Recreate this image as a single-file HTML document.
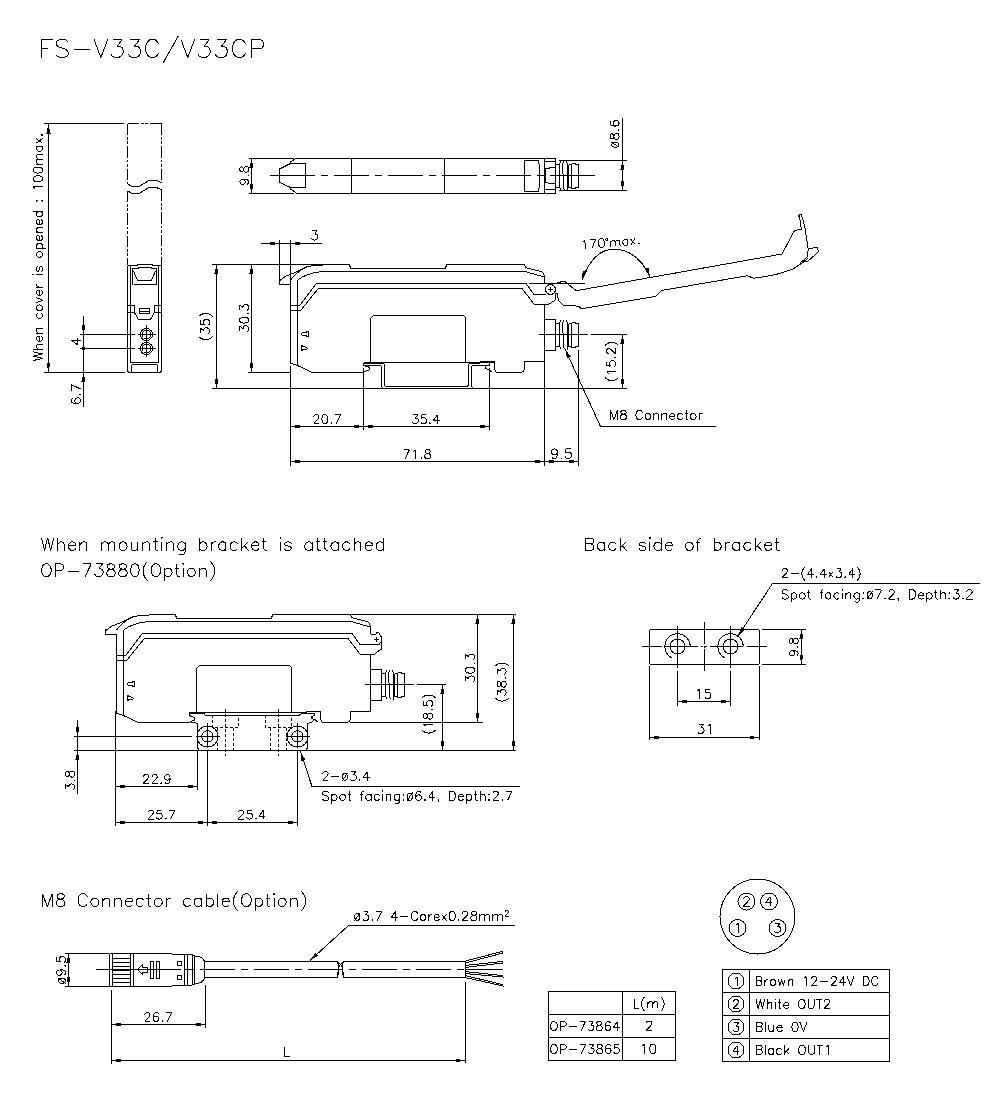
<!DOCTYPE html>
<html><head><meta charset="utf-8"><style>
html,body{margin:0;padding:0;background:#fff;}
svg{display:block;}
svg *{fill:none;stroke:#000;stroke-width:1;shape-rendering:crispEdges;}
svg .t{fill:none;stroke:#000;stroke-linejoin:round;}
svg .f{fill:#000;stroke:none;}
.dd line{stroke-dasharray:11.5 2 2.5 1.5 3 2;}
.cl{stroke-dasharray:35 5.5 7.5 6;}
.cl2{stroke-dasharray:49 3;}
.hid *{stroke-dasharray:3 2;}
</style></head><body>
<svg width="1000" height="1100" viewBox="0 0 1000 1100">
<path class="t" d="M48.38,48.03 L41.50,48.03 M41.50,39.43 L52.69,39.43 M41.50,48.03 L41.50,39.43 M41.50,57.50 L41.50,48.03 M68.17,42.01 L66.45,40.29 L63.87,39.43 L60.43,39.43 L57.85,40.29 L56.13,42.01 L56.13,43.73 L56.99,45.45 L57.85,46.31 L59.57,47.17 L64.73,48.90 L66.45,49.76 L67.31,50.62 L68.17,52.34 L68.17,54.92 L66.45,56.64 L63.87,57.50 L60.43,57.50 L57.85,56.64 L56.13,54.92 M74.20,49.76 L89.69,49.76 M100.87,57.50 L93.99,39.43 M100.87,57.50 L107.76,39.43 M112.92,39.43 L122.38,39.43 M122.38,39.43 L117.22,46.31 M111.20,54.06 L112.06,55.78 L112.92,56.64 L115.50,57.50 L118.08,57.50 L120.66,56.64 L122.38,54.92 L123.24,52.34 L123.24,50.62 L122.38,48.03 L121.52,47.17 L119.80,46.31 L117.22,46.31 M130.13,39.43 L139.59,39.43 M139.59,39.43 L134.43,46.31 M128.41,54.06 L129.27,55.78 L130.13,56.64 L132.71,57.50 L135.29,57.50 L137.87,56.64 L139.59,54.92 L140.45,52.34 L140.45,50.62 L139.59,48.03 L138.73,47.17 L137.01,46.31 L134.43,46.31 M158.52,43.73 L157.66,42.01 L155.94,40.29 L154.22,39.43 L150.78,39.43 L149.06,40.29 L147.34,42.01 L146.48,43.73 L145.62,46.31 L145.62,50.62 L146.48,53.20 L147.34,54.92 L149.06,56.64 L150.78,57.50 L154.22,57.50 L155.94,56.64 L157.66,54.92 L158.52,53.20 M178.31,35.99 L162.83,63.52 M187.78,57.50 L180.90,39.43 M187.78,57.50 L194.66,39.43 M199.83,39.43 L209.29,39.43 M209.29,39.43 L204.13,46.31 M198.10,54.06 L198.97,55.78 L199.83,56.64 L202.41,57.50 L204.99,57.50 L207.57,56.64 L209.29,54.92 L210.15,52.34 L210.15,50.62 L209.29,48.03 L208.43,47.17 L206.71,46.31 L204.13,46.31 M217.03,39.43 L226.50,39.43 M226.50,39.43 L221.34,46.31 M215.31,54.06 L216.17,55.78 L217.03,56.64 L219.62,57.50 L222.20,57.50 L224.78,56.64 L226.50,54.92 L227.36,52.34 L227.36,50.62 L226.50,48.03 L225.64,47.17 L223.92,46.31 L221.34,46.31 M245.43,43.73 L244.57,42.01 L242.85,40.29 L241.13,39.43 L237.69,39.43 L235.97,40.29 L234.24,42.01 L233.38,43.73 L232.52,46.31 L232.52,50.62 L233.38,53.20 L234.24,54.92 L235.97,56.64 L237.69,57.50 L241.13,57.50 L242.85,56.64 L244.57,54.92 L245.43,53.20 M251.45,39.43 L259.20,39.43 L261.78,40.29 L262.64,41.15 L263.50,42.87 L263.50,45.45 L262.64,47.17 L261.78,48.03 L259.20,48.90 L251.45,48.90 M251.45,48.90 L251.45,57.50 M251.45,48.90 L251.45,39.43"/>
<line x1="44" y1="123.5" x2="124" y2="123.5" />
<line x1="44" y1="372.5" x2="125" y2="372.5" />
<line x1="48.5" y1="123.5" x2="48.5" y2="372.5" />
<polygon points="48.5,124 50.6,133.5 46.4,133.5" class="f"/>
<polygon points="48.5,372 46.4,362.5 50.6,362.5" class="f"/>
<path class="t" d="M42.50,358.33 L33.39,360.50 M42.50,358.33 L33.39,356.16 M42.50,353.99 L33.39,356.16 M42.50,353.99 L33.39,351.82 M38.16,349.22 L36.86,347.92 L36.43,347.05 L36.43,345.75 L36.86,344.88 L38.16,344.45 L42.50,344.45 M33.39,349.22 L38.16,349.22 M42.50,349.22 L38.16,349.22 M39.03,341.41 L39.90,341.41 L41.20,340.98 L42.07,340.11 L42.50,339.24 L42.50,337.94 L42.07,337.08 L41.20,336.21 M39.03,336.21 L39.03,341.41 M39.03,336.21 L38.16,336.21 L37.29,336.64 L36.86,337.08 L36.43,337.94 L36.43,339.24 L36.86,340.11 L37.73,340.98 L39.03,341.41 M38.16,333.17 L36.86,331.87 L36.43,331.00 L36.43,329.70 L36.86,328.83 L38.16,328.40 L42.50,328.40 M38.16,333.17 L36.43,333.17 M42.50,333.17 L38.16,333.17 M37.73,313.22 L36.86,314.09 L36.43,314.95 L36.43,316.25 L36.86,317.12 L37.73,317.99 L39.03,318.42 L39.90,318.42 L41.20,317.99 L42.07,317.12 L42.50,316.25 L42.50,314.95 L42.07,314.09 L41.20,313.22 M40.76,310.18 L39.90,310.62 L39.03,310.62 L37.73,310.18 L36.86,309.31 L36.43,308.45 L36.43,307.14 L36.86,306.28 L37.73,305.41 L39.03,304.98 L39.90,304.98 L41.20,305.41 L42.07,306.28 L42.50,307.14 L42.50,308.45 L42.07,309.31 L41.20,310.18 L40.76,310.18 M36.43,302.81 L42.50,300.20 M36.43,297.60 L42.50,300.20 M39.03,295.43 L39.90,295.43 L41.20,295.00 L42.07,294.13 L42.50,293.26 L42.50,291.96 L42.07,291.10 L41.20,290.23 M39.03,290.23 L39.03,295.43 M39.03,290.23 L38.16,290.23 L37.29,290.66 L36.86,291.10 L36.43,291.96 L36.43,293.26 L36.86,294.13 L37.73,295.00 L39.03,295.43 M42.50,287.19 L39.03,287.19 M36.43,283.72 L36.43,285.02 L36.86,285.89 L37.73,286.76 L39.03,287.19 M36.43,287.19 L39.03,287.19 M42.50,274.61 L36.43,274.61 M33.39,275.05 L32.96,274.61 L33.39,274.18 L33.82,274.61 L33.39,275.05 M36.86,271.14 L37.73,271.57 L38.60,271.14 L39.03,270.27 L39.46,268.10 L39.90,267.24 L40.76,266.80 L41.20,266.80 L42.07,267.24 L42.50,268.54 L42.50,269.84 L42.07,271.14 L41.20,271.57 M36.86,267.24 L36.43,268.54 L36.43,269.84 L36.86,271.14 M37.73,266.80 L36.86,267.24 M40.76,256.83 L39.90,257.26 L39.03,257.26 L37.73,256.83 L36.86,255.96 L36.43,255.09 L36.43,253.79 L36.86,252.92 L37.73,252.05 L39.03,251.62 L39.90,251.62 L41.20,252.05 L42.07,252.92 L42.50,253.79 L42.50,255.09 L42.07,255.96 L41.20,256.83 L40.76,256.83 M45.54,248.58 L41.20,248.58 M37.73,248.58 L41.20,248.58 M37.73,248.58 L36.86,247.72 L36.43,246.85 L36.43,245.55 L36.86,244.68 L37.73,243.81 L39.03,243.38 L39.90,243.38 L41.20,243.81 L42.07,244.68 L42.50,245.55 L42.50,246.85 L42.07,247.72 L41.20,248.58 M37.73,248.58 L36.43,248.58 M39.03,240.78 L39.90,240.78 L41.20,240.34 L42.07,239.48 L42.50,238.61 L42.50,237.31 L42.07,236.44 L41.20,235.57 M39.03,235.57 L39.03,240.78 M39.03,235.57 L38.16,235.57 L37.29,236.00 L36.86,236.44 L36.43,237.31 L36.43,238.61 L36.86,239.48 L37.73,240.34 L39.03,240.78 M38.16,232.53 L36.86,231.23 L36.43,230.37 L36.43,229.06 L36.86,228.20 L38.16,227.76 L42.50,227.76 M38.16,232.53 L36.43,232.53 M42.50,232.53 L38.16,232.53 M39.03,224.73 L39.90,224.73 L41.20,224.29 L42.07,223.43 L42.50,222.56 L42.50,221.26 L42.07,220.39 L41.20,219.52 M39.03,219.52 L39.03,224.73 M39.03,219.52 L38.16,219.52 L37.29,219.95 L36.86,220.39 L36.43,221.26 L36.43,222.56 L36.86,223.43 L37.73,224.29 L39.03,224.73 M37.73,211.71 L41.20,211.71 M33.39,211.71 L37.73,211.71 M37.73,211.71 L36.86,212.58 L36.43,213.45 L36.43,214.75 L36.86,215.62 L37.73,216.48 L39.03,216.92 L39.90,216.92 L41.20,216.48 L42.07,215.62 L42.50,214.75 L42.50,213.45 L42.07,212.58 L41.20,211.71 M41.20,211.71 L42.50,211.71 M36.86,201.30 L37.29,200.87 L36.86,200.43 L36.43,200.87 L36.86,201.30 M41.63,200.87 L42.07,201.30 L42.50,200.87 L42.07,200.43 L41.63,200.87 M33.39,186.99 L34.69,188.29 L35.13,189.16 M33.39,186.99 L42.50,186.99 M35.99,181.35 L35.13,181.35 L33.82,180.48 L33.39,179.18 L33.39,178.31 L33.82,177.01 L35.13,176.14 L37.29,175.71 L38.60,175.71 L40.76,176.14 L42.07,177.01 L42.50,178.31 L42.50,179.18 L42.07,180.48 L40.76,181.35 L38.60,181.78 L37.29,181.78 L35.99,181.35 M35.99,172.67 L35.13,172.67 L33.82,171.81 L33.39,170.50 L33.39,169.64 L33.82,168.33 L35.13,167.47 L37.29,167.03 L38.60,167.03 L40.76,167.47 L42.07,168.33 L42.50,169.64 L42.50,170.50 L42.07,171.81 L40.76,172.67 L38.60,173.11 L37.29,173.11 L35.99,172.67 M38.16,164.00 L36.86,162.70 L36.43,161.83 L36.43,160.53 L36.86,159.66 L38.16,159.23 M38.16,159.23 L36.86,157.92 L36.43,157.06 L36.43,155.76 L36.86,154.89 L38.16,154.45 L42.50,154.45 M38.16,159.23 L42.50,159.23 M38.16,164.00 L36.43,164.00 M42.50,164.00 L38.16,164.00 M37.73,146.21 L41.20,146.21 M37.73,146.21 L36.86,147.08 L36.43,147.95 L36.43,149.25 L36.86,150.12 L37.73,150.98 L39.03,151.42 L39.90,151.42 L41.20,150.98 L42.07,150.12 L42.50,149.25 L42.50,147.95 L42.07,147.08 L41.20,146.21 M41.20,146.21 L42.50,146.21 M36.43,146.21 L37.73,146.21 M39.46,141.01 L36.43,143.18 M39.46,141.01 L42.50,143.18 M39.46,141.01 L36.43,138.40 M39.46,141.01 L42.50,138.40 M41.63,134.93 L42.07,135.37 L42.50,134.93 L42.07,134.50 L41.63,134.93"/>
<g class="dd">
<line x1="127.5" y1="123.5" x2="161.5" y2="123.5" />
<line x1="127.5" y1="123.5" x2="127.5" y2="183.7" />
<line x1="161.5" y1="123.5" x2="161.5" y2="182.9" />
<line x1="127.5" y1="190.7" x2="127.5" y2="265" />
<line x1="161.5" y1="189.9" x2="161.5" y2="265" />
</g>
<polyline points="127.5,183.7 132.2,186.6 138.7,186.6 149.4,180.3 156.3,180.3 161.5,182.9" />
<polyline points="127.5,190.7 132.2,193.6 138.7,193.6 149.4,187.4 156.3,187.4 161.5,189.9" />
<path d="M127.5,265.5 V369.5 Q127.5,372.5 130.5,372.5 H158.5 Q161.5,372.5 161.5,369.5 V265.5" />
<polyline points="127.5,265.5 137,265.5 137,264.5 152,264.5 152,265.5 161.5,265.5" />
<line x1="130.5" y1="266" x2="130.5" y2="362.5" />
<line x1="158.5" y1="266" x2="158.5" y2="362.5" />
<line x1="130.5" y1="362.5" x2="158.5" y2="362.5" />
<path d="M131.5,372.5 V366.5 Q131.5,364.5 133.5,364.5 H155.5 Q157.5,364.5 157.5,366.5 V372.5" />
<polyline points="132.5,285 132.5,268.5 138,268.5 138,267.5 151,267.5 151,268.5 156.5,268.5 156.5,285" />
<polyline points="133.5,284.5 155.5,284.5" />
<polyline points="133.5,271 137.5,280.5 151.5,280.5 155.5,271" />
<rect x="127.5" y="305.5" width="7" height="7"/>
<rect x="154.5" y="305.5" width="7" height="7"/>
<rect x="139.5" y="308.5" width="10" height="5"/>
<line x1="139.5" y1="311" x2="149.5" y2="311" />
<polyline points="134.5,312.5 138.5,319.5 150.5,319.5 154.5,312.5" />
<circle cx="146.5" cy="334.5" r="6" />
<circle cx="146.5" cy="334.5" r="4.5" />
<line x1="138" y1="334.5" x2="156" y2="334.5" />
<circle cx="146.5" cy="348.5" r="6" />
<circle cx="146.5" cy="348.5" r="4.5" />
<line x1="138" y1="348.5" x2="156" y2="348.5" />
<line x1="146.5" y1="325" x2="146.5" y2="357" />
<line x1="80" y1="334.5" x2="135" y2="334.5" />
<line x1="80" y1="348.5" x2="135" y2="348.5" />
<line x1="83.5" y1="316" x2="83.5" y2="406.5" />
<polygon points="83.5,334.5 81.4,325.0 85.6,325.0" class="f"/>
<circle cx="83.5" cy="348.5" r="2" class="f"/>
<polygon points="83.5,372.5 85.6,382.0 81.4,382.0" class="f"/>
<path class="t" d="M77.35,340.00 L77.35,337.75 M71.05,340.00 L77.35,340.00 M80.50,340.00 L77.35,340.00 M77.35,344.50 L77.35,340.00 M71.05,340.00 L77.35,344.50"/>
<path class="t" d="M77.41,403.50 L76.08,403.06 L75.20,402.17 L74.76,400.85 L74.76,400.41 L75.20,399.08 L76.08,398.20 L77.41,397.76 L77.85,397.76 L79.17,398.20 L80.06,399.08 L80.50,400.41 L80.50,400.85 L80.06,402.17 L79.17,403.06 L77.41,403.50 M72.55,398.20 L71.66,398.64 M77.41,403.50 L75.20,403.50 L72.99,403.06 L71.66,402.17 L71.22,400.85 L71.22,399.97 L71.66,398.64 M79.62,394.22 L80.06,394.66 L80.50,394.22 L80.06,393.78 L79.62,394.22 M71.22,390.69 L71.22,384.50 M80.50,388.92 L71.22,384.50"/>
<line x1="248.5" y1="158.5" x2="293.5" y2="158.5" />
<line x1="248.5" y1="193.5" x2="293.5" y2="193.5" />
<line x1="251.5" y1="158.5" x2="251.5" y2="193.5" />
<polygon points="251.5,158.5 253.6,168.0 249.4,168.0" class="f"/>
<polygon points="251.5,193.5 249.4,184.0 253.6,184.0" class="f"/>
<path class="t" d="M247.27,184.09 L248.09,183.68 L248.50,182.45 L248.50,181.64 L248.09,180.41 L246.86,179.59 L244.82,179.18 L242.77,179.18 M242.77,179.18 L241.14,179.59 L240.32,180.41 L239.91,181.64 L239.91,182.05 L240.32,183.27 L241.14,184.09 L242.36,184.50 L242.77,184.50 L244.00,184.09 L244.82,183.27 L245.23,182.05 L245.23,181.64 L244.82,180.41 L244.00,179.59 L242.77,179.18 M247.68,175.50 L248.09,175.91 L248.50,175.50 L248.09,175.09 L247.68,175.50 M243.59,169.36 L243.18,170.59 L242.77,171.41 L241.95,171.82 L241.14,171.82 L240.32,171.41 M243.59,169.36 L244.00,171.00 L244.82,171.82 L245.64,172.23 L246.86,172.23 L247.68,171.82 L248.09,171.41 L248.50,170.18 L248.50,168.55 L248.09,167.32 L247.68,166.91 L246.86,166.50 L245.64,166.50 L244.82,166.91 L244.00,167.73 L243.59,169.36 M240.32,167.32 L241.14,166.91 L241.95,166.91 L242.77,167.32 L243.18,168.14 L243.59,169.36 M240.32,171.41 L239.91,170.18 L239.91,168.55 L240.32,167.32"/>
<line x1="296" y1="158.5" x2="555.5" y2="158.5" />
<line x1="297" y1="193.5" x2="555.5" y2="193.5" />
<line x1="555.5" y1="158.5" x2="555.5" y2="193.5" />
<polyline points="296,158.5 290.5,162 290.5,163.5 279.5,169 279.5,182.5 290.5,187.5 290.5,189 297,193.5" />
<polyline points="290.5,163.5 305.5,163.5 305.5,187.5 290.5,187.5" />
<line x1="351.5" y1="158.5" x2="351.5" y2="193.5" />
<line x1="444.5" y1="158.5" x2="444.5" y2="193.5" />
<path d="M524.5,160.5 H538.5 Q541.5,176 538.5,191.5 H524.5 Z" />
<line x1="544.5" y1="158.5" x2="544.5" y2="193.5" />
<line x1="544.5" y1="161.5" x2="555.5" y2="161.5" />
<line x1="544.5" y1="189.5" x2="555.5" y2="189.5" />
<polyline points="544.5,168.5 549,168.5 550,167.5 555.5,167.5" />
<polyline points="545.5,168.5 545.5,182.5 550,183.5 555.5,183.5" />
<line x1="559.5" y1="163.5" x2="559.5" y2="187.5" />
<line x1="555.5" y1="164.5" x2="559.5" y2="164.5" />
<line x1="555.5" y1="187.5" x2="559.5" y2="187.5" />
<polyline points="560.5,161.5 559.5,165 559.5,187 561.5,190.5" />
<polyline points="563.5,161.5 562.5,165 562.5,171 563.5,177 563.5,187 564.5,190.5" />
<polyline points="566.5,161.5 567.5,165 567.5,190.5" />
<line x1="568.5" y1="164.5" x2="568.5" y2="187.5" />
<line x1="568.5" y1="164.5" x2="571.5" y2="164.5" />
<line x1="568.5" y1="187.5" x2="571.5" y2="187.5" />
<polyline points="571.5,163.5 575.5,163.5 575.5,164.5 578.5,164.5 578.5,187.5 575.5,187.5 575.5,188.5 571.5,188.5 571.5,163.5" />
<line x1="559" y1="160.5" x2="626.5" y2="160.5" />
<line x1="559" y1="190.5" x2="626.5" y2="190.5" />
<line x1="270" y1="175.5" x2="280" y2="175.5" />
<line x1="280" y1="175.5" x2="595" y2="175.5" class="cl"/>
<line x1="584" y1="175.5" x2="595" y2="175.5" />
<line x1="622.5" y1="118" x2="622.5" y2="190.5" />
<polygon points="622.5,160.5 624.6,170.0 620.4,170.0" class="f"/>
<polygon points="622.5,190.5 620.4,181.0 624.6,181.0" class="f"/>
<path class="t" d="M615.36,142.14 L613.96,142.34 L612.78,142.90 L611.99,143.73 L611.71,144.71 L611.99,145.70 L612.78,146.53 L613.96,147.09 L615.36,147.29 L616.75,147.09 L617.93,146.53 L618.72,145.70 L619.00,144.71 L618.72,143.73 L617.93,142.90 L616.75,142.34 L615.36,142.14 M619.43,147.50 L611.29,141.93 M613.86,136.36 L613.43,137.64 L613.00,138.50 L612.14,138.93 L611.29,138.93 L610.43,138.50 M613.86,136.36 L614.29,138.07 L615.14,138.93 L616.00,139.36 L617.29,139.36 L618.14,138.93 L618.57,138.50 L619.00,137.21 L619.00,135.50 L618.57,134.21 L618.14,133.79 L617.29,133.36 L616.00,133.36 L615.14,133.79 L614.29,134.64 L613.86,136.36 M610.43,134.21 L611.29,133.79 L612.14,133.79 L613.00,134.21 L613.43,135.07 L613.86,136.36 M610.43,138.50 L610.00,137.21 L610.00,135.50 L610.43,134.21 M618.14,129.93 L618.57,130.36 L619.00,129.93 L618.57,129.50 L618.14,129.93 M616.00,126.07 L614.71,125.64 L613.86,124.79 L613.43,123.50 L613.43,123.07 L613.86,121.79 L614.71,120.93 L616.00,120.50 L616.43,120.50 L617.71,120.93 L618.57,121.79 L619.00,123.07 L619.00,123.50 L618.57,124.79 L617.71,125.64 L616.00,126.07 M611.29,120.93 L610.43,121.36 M616.00,126.07 L613.86,126.07 L611.71,125.64 L610.43,124.79 L610.00,123.50 L610.00,122.64 L610.43,121.36"/>
<g>
<polyline points="279.5,278.5 279.5,284.5 290.5,284.5" />
<path d="M279.5,280.8 L285.6,276.3 L298.2,271.2 L308.4,266.1 L323,265.5" />
<path d="M290.5,280.2 Q296,272 306,267.5" />
<path d="M297.5,280.2 Q306,273 322.8,271.5 H525 L544,277" />
<path d="M290.5,284 V363 L297.5,365.5 L312,372.5 H363.5" />
<line x1="297.5" y1="280.2" x2="297.5" y2="365.5" />
<polyline points="323,264.5 349,264.5" />
<polyline points="349,264.5 351,268.5 445,268.5 447,264.5 524.5,264.5 525.5,267.5 542.4,272 544,275 544,284" />
<polyline points="290.5,305.5 299.7,305.5 316.2,283.5 526,283.5 534,294.5" />
<polyline points="290.5,310.5 300.6,310.5 318.3,288.5 522,288.5 534.4,304.5" />
<line x1="544.5" y1="304.5" x2="544.5" y2="361.5" />
<path d="M544.5,361.5 H524.5 V368 Q524.5,372 520.5,372.5 H497" />
<polyline points="480,361.5 494,361.5 494,368 495.6,371.5 497,372.5" />
<polyline points="485.5,365.5 485.5,368.5 489.5,370 491.5,372" />
<path d="M370.5,362.5 V318.5 L373.5,315.5 H462.5 Q465.5,315.5 465.5,318.5 V362.5" />
<polyline points="301,334 302.5,332.5 306,332.5 306.5,331.5 308.5,331.5 308.5,336.5 306.5,336.5 306,335.5 302.5,335.5 301,334" />
<polyline points="301,345.5 301,350.5 302,350.5 302.5,349.5 306,349.5 307.5,348.5 306,347.5 302.5,346 302,345.5 301,345.5" />
<rect x="544.5" y="319.5" width="11" height="31"/>
<line x1="555.5" y1="323.5" x2="559.5" y2="323.5" />
<line x1="555.5" y1="346.5" x2="559.5" y2="346.5" />
<polyline points="560.5,320.5 559.5,324 559.5,346 561.5,349.5" />
<polyline points="563.5,320.5 562.5,324 562.5,330 563.5,336 563.5,346 564.5,349.5" />
<polyline points="566.5,320.5 567.5,324 567.5,349.5" />
<line x1="568.5" y1="323.5" x2="568.5" y2="346.5" />
<line x1="568.5" y1="323.5" x2="571.5" y2="323.5" />
<line x1="568.5" y1="346.5" x2="571.5" y2="346.5" />
<polyline points="571.5,322.5 575.5,322.5 575.5,323.5 578.5,323.5 578.5,346.5 575.5,346.5 575.5,347.5 571.5,347.5 571.5,322.5" />
</g>
<polyline points="534,294.5 546,294.5" />
<polyline points="534.4,304.5 548.6,304.5 555.5,299.8 555.5,293.5 557,293.5 558.7,300.5 563.3,305 568.2,305 579.4,306.4 580.8,308.9 655.5,296.5 661.5,290.5 747.5,275.7 753.5,278.3 770,275.7 776.4,274.4 793.6,268.7 803.1,262.3 808,258" />
<circle cx="550.5" cy="289.5" r="5" />
<line x1="548" y1="289.5" x2="553" y2="289.5" />
<line x1="550.5" y1="287" x2="550.5" y2="292" />
<path d="M363.5,362.5 H494" />
<path d="M363.5,363.5 H382 M471,363.5 H480" />
<path d="M363.5,362.5 V365.5 H380 Q381.5,365.5 381.5,367.5 V385 Q381.5,388 383.5,388.5" />
<path d="M382,363 Q384.5,363.5 384.5,366 V384 Q384.5,386.5 387,386.5 H466 Q468.5,386.5 468.5,384 V366 Q468.5,363.5 471,363" />
<path d="M489.5,361.5 V365.5 H474 Q471.5,365.5 471.5,367.5 V385 Q471.5,388 473.5,388.5" />
<polyline points="365,366 368,366 369.5,368 369,370 365.2,371.4 363.5,372.5" />
<line x1="212" y1="264.5" x2="323" y2="264.5" />
<line x1="212" y1="388.5" x2="627" y2="388.5" />
<line x1="216.5" y1="264.5" x2="216.5" y2="388.5" />
<polygon points="216.5,264.5 218.6,274.0 214.4,274.0" class="f"/>
<polygon points="216.5,388.5 214.4,379.0 218.6,379.0" class="f"/>
<path class="t" d="M198.67,336.47 L199.53,337.33 L200.83,338.20 L202.57,339.07 L204.73,339.50 L206.47,339.50 L208.63,339.07 L210.37,338.20 L211.67,337.33 L212.53,336.47 M200.40,333.00 L200.40,328.23 M200.40,328.23 L203.87,330.83 M207.77,333.87 L208.63,333.43 L209.07,333.00 L209.50,331.70 L209.50,330.40 L209.07,329.10 L208.20,328.23 L206.90,327.80 L206.03,327.80 L204.73,328.23 L204.30,328.67 L203.87,329.53 L203.87,330.83 M200.40,324.33 L200.40,320.00 M207.77,325.20 L208.63,324.77 L209.07,324.33 L209.50,323.03 L209.50,321.73 L209.07,320.43 L208.20,319.57 L206.90,319.13 L206.03,319.13 L204.73,319.57 L203.87,320.43 L203.43,321.73 L203.43,323.03 L203.87,324.33 L204.30,324.77 M200.40,324.33 L204.30,324.77 M198.67,316.53 L199.53,315.67 L200.83,314.80 L202.57,313.93 L204.73,313.50 L206.47,313.50 L208.63,313.93 L210.37,314.80 L211.67,315.67 L212.53,316.53"/>
<line x1="248" y1="372.5" x2="290.5" y2="372.5" />
<line x1="251.5" y1="264.5" x2="251.5" y2="372.5" />
<polygon points="251.5,264.5 253.6,274.0 249.4,274.0" class="f"/>
<polygon points="251.5,372.5 249.4,363.0 253.6,363.0" class="f"/>
<path class="t" d="M239.64,330.66 L239.64,326.02 M239.64,326.02 L243.02,328.55 M246.81,331.50 L247.66,331.08 L248.08,330.66 L248.50,329.39 L248.50,328.12 L248.08,326.86 L247.23,326.02 L245.97,325.59 L245.12,325.59 L243.86,326.02 L243.44,326.44 L243.02,327.28 L243.02,328.55 M242.17,322.64 L241.33,322.64 L240.06,321.80 L239.64,320.53 L239.64,319.69 L240.06,318.42 L241.33,317.58 L243.44,317.16 L244.70,317.16 L246.81,317.58 L248.08,318.42 L248.50,319.69 L248.50,320.53 L248.08,321.80 L246.81,322.64 L244.70,323.06 L243.44,323.06 L242.17,322.64 M247.66,313.78 L248.08,314.20 L248.50,313.78 L248.08,313.36 L247.66,313.78 M239.64,309.56 L239.64,304.92 M239.64,304.92 L243.02,307.45 M246.81,310.41 L247.66,309.98 L248.08,309.56 L248.50,308.30 L248.50,307.03 L248.08,305.77 L247.23,304.92 L245.97,304.50 L245.12,304.50 L243.86,304.92 L243.44,305.34 L243.02,306.19 L243.02,307.45"/>
<line x1="279.5" y1="240" x2="279.5" y2="278.5" />
<line x1="290.5" y1="240" x2="290.5" y2="284" />
<line x1="261" y1="243.5" x2="322" y2="243.5" />
<polygon points="279.5,243.5 270.0,245.6 270.0,241.4" class="f"/>
<polygon points="290.5,243.5 300.0,241.4 300.0,245.6" class="f"/>
<path class="t" d="M312.40,230.55 L317.35,230.55 M317.35,230.55 L314.65,234.15 M311.50,238.20 L311.95,239.10 L312.40,239.55 L313.75,240.00 L315.10,240.00 L316.45,239.55 L317.35,238.65 L317.80,237.30 L317.80,236.40 L317.35,235.05 L316.90,234.60 L316.00,234.15 L314.65,234.15"/>
<line x1="290.5" y1="366" x2="290.5" y2="465.5" />
<line x1="363.5" y1="368" x2="363.5" y2="429.5" />
<line x1="489.5" y1="368" x2="489.5" y2="429.5" />
<line x1="544.5" y1="361" x2="544.5" y2="466" />
<line x1="578.5" y1="350" x2="578.5" y2="466" />
<line x1="290.5" y1="426.5" x2="489.5" y2="426.5" />
<polygon points="290.5,426.5 300.0,424.4 300.0,428.6" class="f"/>
<polygon points="363.5,426.5 354.0,428.6 354.0,424.4" class="f"/>
<polygon points="363.5,426.5 373.0,424.4 373.0,428.6" class="f"/>
<polygon points="489.5,426.5 480.0,428.6 480.0,424.4" class="f"/>
<path class="t" d="M313.50,423.50 L317.72,419.28 L318.56,418.02 L318.98,417.17 L318.98,416.33 L318.56,415.48 L318.14,415.06 L317.30,414.64 L315.61,414.64 L314.77,415.06 L314.34,415.48 L313.92,416.33 L313.92,416.75 M313.50,423.50 L319.41,423.50 M322.36,417.17 L322.36,416.33 L323.20,415.06 L324.47,414.64 L325.31,414.64 L326.58,415.06 L327.42,416.33 L327.84,418.44 L327.84,419.70 L327.42,421.81 L326.58,423.08 L325.31,423.50 L324.47,423.50 L323.20,423.08 L322.36,421.81 L321.94,419.70 L321.94,418.44 L322.36,417.17 M331.22,422.66 L330.80,423.08 L331.22,423.50 L331.64,423.08 L331.22,422.66 M334.59,414.64 L340.50,414.64 M336.28,423.50 L340.50,414.64"/>
<path class="t" d="M413.33,414.78 L417.90,414.78 M417.90,414.78 L415.41,418.10 M412.50,421.84 L412.92,422.67 L413.33,423.08 L414.58,423.50 L415.82,423.50 L417.07,423.08 L417.90,422.25 L418.32,421.01 L418.32,420.18 L417.90,418.93 L417.48,418.52 L416.65,418.10 L415.41,418.10 M421.64,414.78 L425.79,414.78 M420.81,421.84 L421.22,422.67 L421.64,423.08 L422.88,423.50 L424.13,423.50 L425.38,423.08 L426.21,422.25 L426.62,421.01 L426.62,420.18 L426.21,418.93 L425.38,418.10 L424.13,417.68 L422.88,417.68 L421.64,418.10 L421.22,418.52 M421.64,414.78 L421.22,418.52 M429.95,422.67 L429.53,423.08 L429.95,423.50 L430.36,423.08 L429.95,422.67 M437.42,420.59 L439.50,420.59 M437.42,414.78 L437.42,420.59 M437.42,423.50 L437.42,420.59 M433.27,420.59 L437.42,420.59 M437.42,414.78 L433.27,420.59"/>
<line x1="290.5" y1="461.5" x2="578.5" y2="461.5" />
<polygon points="290.5,461.5 300.0,459.4 300.0,463.6" class="f"/>
<polygon points="544.5,461.5 535.0,463.6 535.0,459.4" class="f"/>
<polygon points="544.5,461.5 554.0,459.4 554.0,463.6" class="f"/>
<polygon points="578.5,461.5 569.0,463.6 569.0,459.4" class="f"/>
<path class="t" d="M403.50,449.64 L409.41,449.64 M405.19,458.50 L409.41,449.64 M415.31,449.64 L414.05,450.91 L413.20,451.33 M415.31,449.64 L415.31,458.50 M421.22,457.66 L420.80,458.08 L421.22,458.50 L421.64,458.08 L421.22,457.66 M427.55,453.44 L426.28,453.02 L425.44,452.59 L425.02,451.75 L425.02,450.91 L425.44,450.06 M427.55,453.44 L425.86,453.86 L425.02,454.70 L424.59,455.55 L424.59,456.81 L425.02,457.66 L425.44,458.08 L426.70,458.50 L428.39,458.50 L429.66,458.08 L430.08,457.66 L430.50,456.81 L430.50,455.55 L430.08,454.70 L429.23,453.86 L427.55,453.44 M429.66,450.06 L430.08,450.91 L430.08,451.75 L429.66,452.59 L428.81,453.02 L427.55,453.44 M425.44,450.06 L426.70,449.64 L428.39,449.64 L429.66,450.06"/>
<path class="t" d="M551.95,457.14 L552.41,458.05 L553.77,458.50 L554.68,458.50 L556.05,458.05 L556.95,456.68 L557.41,454.41 L557.41,452.14 M557.41,452.14 L556.95,450.32 L556.05,449.41 L554.68,448.95 L554.23,448.95 L552.86,449.41 L551.95,450.32 L551.50,451.68 L551.50,452.14 L551.95,453.50 L552.86,454.41 L554.23,454.86 L554.68,454.86 L556.05,454.41 L556.95,453.50 L557.41,452.14 M561.50,457.59 L561.05,458.05 L561.50,458.50 L561.95,458.05 L561.50,457.59 M566.05,448.95 L570.59,448.95 M565.14,456.68 L565.59,457.59 L566.05,458.05 L567.41,458.50 L568.77,458.50 L570.14,458.05 L571.05,457.14 L571.50,455.77 L571.50,454.86 L571.05,453.50 L570.14,452.59 L568.77,452.14 L567.41,452.14 L566.05,452.59 L565.59,453.05 M566.05,448.95 L565.59,453.05"/>
<line x1="539" y1="334.5" x2="627" y2="334.5" class="cl2"/>
<line x1="622.5" y1="334.5" x2="622.5" y2="388.5" />
<polygon points="622.5,334.5 624.6,344.0 620.4,344.0" class="f"/>
<polygon points="622.5,388.5 620.4,379.0 624.6,379.0" class="f"/>
<path class="t" d="M604.94,377.54 L605.79,378.39 L607.06,379.23 L608.74,380.08 L610.86,380.50 L612.54,380.50 L614.66,380.08 L616.34,379.23 L617.61,378.39 L618.46,377.54 M606.63,371.63 L607.90,372.90 L608.32,373.74 M606.63,371.63 L615.50,371.63 M606.63,365.72 L606.63,361.50 M613.81,366.57 L614.66,366.14 L615.08,365.72 L615.50,364.46 L615.50,363.19 L615.08,361.92 L614.23,361.08 L612.97,360.66 L612.12,360.66 L610.86,361.08 L610.01,361.92 L609.59,363.19 L609.59,364.46 L610.01,365.72 L610.43,366.14 M606.63,365.72 L610.43,366.14 M614.66,357.28 L615.08,357.70 L615.50,357.28 L615.08,356.86 L614.66,357.28 M615.50,353.90 L611.28,349.68 L610.01,348.83 L609.17,348.41 L608.32,348.41 L607.48,348.83 L607.06,349.26 L606.63,350.10 L606.63,351.79 L607.06,352.63 L607.48,353.06 L608.32,353.48 L608.74,353.48 M615.50,353.90 L615.50,347.99 M604.94,345.46 L605.79,344.61 L607.06,343.77 L608.74,342.92 L610.86,342.50 L612.54,342.50 L614.66,342.92 L616.34,343.77 L617.61,344.61 L618.46,345.46"/>
<polyline points="565,349 600.5,426.5 716,426.5" />
<polygon points="565,349 570.87,356.76 567.05,358.51" class="f"/>
<path class="t" d="M617.41,410.43 L617.41,419.50 M617.41,410.43 L613.96,419.50 M610.50,410.43 L613.96,419.50 M610.50,419.50 L610.50,410.43 M623.46,414.32 L622.16,413.88 L621.30,413.45 L620.87,412.59 L620.87,411.73 L621.30,410.86 M623.46,414.32 L621.73,414.75 L620.87,415.61 L620.43,416.48 L620.43,417.77 L620.87,418.64 L621.30,419.07 L622.59,419.50 L624.32,419.50 L625.62,419.07 L626.05,418.64 L626.48,417.77 L626.48,416.48 L626.05,415.61 L625.19,414.75 L623.46,414.32 M625.62,410.86 L626.05,411.73 L626.05,412.59 L625.62,413.45 L624.75,413.88 L623.46,414.32 M621.30,410.86 L622.59,410.43 L624.32,410.43 L625.62,410.86 M642.46,412.59 L642.03,411.73 L641.17,410.86 L640.30,410.43 L638.58,410.43 L637.71,410.86 L636.85,411.73 L636.42,412.59 L635.98,413.88 L635.98,416.04 L636.42,417.34 L636.85,418.20 L637.71,419.07 L638.58,419.50 L640.30,419.50 L641.17,419.07 L642.03,418.20 L642.46,417.34 M645.49,417.77 L645.05,416.91 L645.05,416.04 L645.49,414.75 L646.35,413.88 L647.21,413.45 L648.51,413.45 L649.37,413.88 L650.24,414.75 L650.67,416.04 L650.67,416.91 L650.24,418.20 L649.37,419.07 L648.51,419.50 L647.21,419.50 L646.35,419.07 L645.49,418.20 L645.49,417.77 M653.69,415.18 L654.99,413.88 L655.85,413.45 L657.15,413.45 L658.01,413.88 L658.44,415.18 L658.44,419.50 M653.69,415.18 L653.69,413.45 M653.69,419.50 L653.69,415.18 M661.90,415.18 L663.19,413.88 L664.06,413.45 L665.35,413.45 L666.22,413.88 L666.65,415.18 L666.65,419.50 M661.90,415.18 L661.90,413.45 M661.90,419.50 L661.90,415.18 M669.67,416.04 L669.67,416.91 L670.11,418.20 L670.97,419.07 L671.83,419.50 L673.13,419.50 L673.99,419.07 L674.86,418.20 M674.86,416.04 L669.67,416.04 M674.86,416.04 L674.86,415.18 L674.42,414.32 L673.99,413.88 L673.13,413.45 L671.83,413.45 L670.97,413.88 L670.11,414.75 L669.67,416.04 M682.63,414.75 L681.77,413.88 L680.90,413.45 L679.61,413.45 L678.74,413.88 L677.88,414.75 L677.45,416.04 L677.45,416.91 L677.88,418.20 L678.74,419.07 L679.61,419.50 L680.90,419.50 L681.77,419.07 L682.63,418.20 M686.09,410.43 L686.09,413.45 M686.09,413.45 L686.09,417.77 L686.52,419.07 M688.25,419.50 L687.38,419.50 L686.52,419.07 M686.09,413.45 L687.81,413.45 M686.09,413.45 L684.79,413.45 M690.84,417.77 L690.41,416.91 L690.41,416.04 L690.84,414.75 L691.70,413.88 L692.57,413.45 L693.86,413.45 L694.73,413.88 L695.59,414.75 L696.02,416.04 L696.02,416.91 L695.59,418.20 L694.73,419.07 L693.86,419.50 L692.57,419.50 L691.70,419.07 L690.84,418.20 L690.84,417.77 M699.04,419.50 L699.04,416.04 M702.50,413.45 L701.20,413.45 L700.34,413.88 L699.48,414.75 L699.04,416.04 M699.04,413.45 L699.04,416.04"/>
<path d="M557,283 L564,281 L567.1,283.3 L576.2,290.7 L579.7,290.1 L782,254 L794.5,230.5 L801.5,229.2 L801,227 L799.6,217.4 L798.3,215.5 L801.2,214.2 L804.7,226 L808.2,249 L817.1,247.3 L818.7,251.5 L808.2,261 L805,261 M808.2,249 L807.6,256.6 L804.4,259.7 L800,263" />
<line x1="529" y1="283.5" x2="584.7" y2="283.5" />
<path d="M582,280 Q593,249.5 614,249 Q638,250 650,277" />
<polygon points="582,280 582.72,270.3 586.74,271.5" class="f"/>
<polygon points="650,277 644.52,268.96 648.42,267.4" class="f"/>
<path class="t" d="M584.77,240.03 L583.63,241.39 L582.84,241.88 M584.77,240.03 L585.54,248.78 M589.77,239.60 L595.60,239.09 M592.20,248.19 L595.60,239.09 M598.73,241.33 L598.66,240.50 L599.38,239.17 L600.59,238.65 L601.42,238.58 L602.71,238.88 L603.65,240.06 L604.25,242.10 L604.36,243.35 L604.12,245.47 L603.40,246.79 L602.19,247.32 L601.36,247.39 L600.07,247.09 L599.13,245.91 L598.53,243.86 L598.42,242.61 L598.73,241.33 M607.99,239.26 L607.62,238.55 L606.85,238.31 L606.15,238.68 L605.90,239.44 L606.27,240.15 L607.04,240.39 L607.75,240.02 L607.99,239.26 M610.57,242.39 L611.71,241.03 L612.50,240.54 L613.75,240.43 L614.62,240.78 L615.15,241.99 M615.15,241.99 L616.29,240.63 L617.08,240.14 L618.33,240.03 L619.20,240.38 L619.73,241.59 L620.09,245.75 M615.15,241.99 L615.51,246.15 M610.57,242.39 L610.42,240.73 M610.93,246.55 L610.57,242.39 M627.60,240.48 L627.89,243.81 M627.60,240.48 L626.69,239.72 L625.83,239.38 L624.58,239.49 L623.78,239.98 L623.02,240.88 L622.71,242.17 L622.79,243.00 L623.31,244.21 L624.22,244.97 L625.09,245.32 L626.34,245.21 L627.13,244.72 L627.89,243.81 M627.89,243.81 L628.00,245.06 M627.49,239.23 L627.60,240.48 M632.74,241.71 L630.41,238.98 M632.74,241.71 L630.92,244.81 M632.74,241.71 L634.98,238.58 M632.74,241.71 L635.49,244.41 M638.75,243.28 L638.37,243.73 L638.83,244.11 L639.20,243.66 L638.75,243.28"/>
<g transform="translate(-174,350)">
<polyline points="279.5,278.5 279.5,284.5 290.5,284.5" />
<path d="M279.5,280.8 L285.6,276.3 L298.2,271.2 L308.4,266.1 L323,265.5" />
<path d="M290.5,280.2 Q296,272 306,267.5" />
<path d="M297.5,280.2 Q306,273 322.8,271.5 H525 L544,277" />
<path d="M290.5,284 V363 L297.5,365.5 L312,372.5 H363.5" />
<line x1="297.5" y1="280.2" x2="297.5" y2="365.5" />
<polyline points="323,264.5 349,264.5" />
<polyline points="349,264.5 351,268.5 445,268.5 447,264.5 524.5,264.5 525.5,267.5 542.4,272 544,275 544,284" />
<polyline points="290.5,305.5 299.7,305.5 316.2,283.5 526,283.5 534,294.5" />
<polyline points="290.5,310.5 300.6,310.5 318.3,288.5 522,288.5 534.4,304.5" />
<line x1="544.5" y1="304.5" x2="544.5" y2="361.5" />
<path d="M544.5,361.5 H524.5 V368 Q524.5,372 520.5,372.5 H497" />
<polyline points="480,361.5 494,361.5 494,368 495.6,371.5 497,372.5" />
<polyline points="485.5,365.5 485.5,368.5 489.5,370 491.5,372" />
<path d="M370.5,362.5 V318.5 L373.5,315.5 H462.5 Q465.5,315.5 465.5,318.5 V362.5" />
<polyline points="301,334 302.5,332.5 306,332.5 306.5,331.5 308.5,331.5 308.5,336.5 306.5,336.5 306,335.5 302.5,335.5 301,334" />
<polyline points="301,345.5 301,350.5 302,350.5 302.5,349.5 306,349.5 307.5,348.5 306,347.5 302.5,346 302,345.5 301,345.5" />
<rect x="544.5" y="319.5" width="11" height="31"/>
<line x1="555.5" y1="323.5" x2="559.5" y2="323.5" />
<line x1="555.5" y1="346.5" x2="559.5" y2="346.5" />
<polyline points="560.5,320.5 559.5,324 559.5,346 561.5,349.5" />
<polyline points="563.5,320.5 562.5,324 562.5,330 563.5,336 563.5,346 564.5,349.5" />
<polyline points="566.5,320.5 567.5,324 567.5,349.5" />
<line x1="568.5" y1="323.5" x2="568.5" y2="346.5" />
<line x1="568.5" y1="323.5" x2="571.5" y2="323.5" />
<line x1="568.5" y1="346.5" x2="571.5" y2="346.5" />
<polyline points="571.5,322.5 575.5,322.5 575.5,323.5 578.5,323.5 578.5,346.5 575.5,346.5 575.5,347.5 571.5,347.5 571.5,322.5" />
</g>
<polyline points="370.5,634.5 375.8,634.5 376.5,632 378.3,632 381.5,637.2 381.5,649.1 379,650.5 374.8,654 360,654.5" />
<polyline points="360,644.5 379,644.5 381,642" />
<line x1="374" y1="639.5" x2="379" y2="639.5" />
<line x1="376.5" y1="637" x2="376.5" y2="642" />
<path d="M189,712.5 H306.5 M189,713.5 H204 M204,713.5 L205.5,715.5 H299 L301.5,713.5 H306.5" />
<polyline points="189,712.5 189,715.5 192,716.5 194.5,718 194.5,720 191,721.5 192,722.5 195,722.5 197.5,723.5 197.5,748 199.5,750.5" />
<polyline points="307.5,723.5 307.5,748 305.5,750.5" />
<polyline points="307.5,723.5 312.3,722 313.5,720 312,717 314.5,715 314.5,713.5 306.5,713.5" />
<line x1="74" y1="736.5" x2="191.5" y2="736.5" />
<line x1="74" y1="750.5" x2="516" y2="750.5" />
<circle cx="207.5" cy="736.5" r="10.5" />
<circle cx="207.5" cy="736.5" r="5.7" />
<line x1="195.5" y1="736.5" x2="219.5" y2="736.5" />
<line x1="207.5" y1="723" x2="207.5" y2="748" />
<circle cx="297.5" cy="736.5" r="10.5" />
<circle cx="297.5" cy="736.5" r="5.7" />
<line x1="285.5" y1="736.5" x2="309.5" y2="736.5" />
<line x1="297.5" y1="723" x2="297.5" y2="748" />
<g class="hid">
<polyline points="212.5,715 212.5,727.5 238.5,727.5 238.5,715" />
<line x1="217.5" y1="727.5" x2="217.5" y2="750.5" />
<line x1="233.5" y1="727.5" x2="233.5" y2="750.5" />
<polyline points="265.5,715 265.5,727.5 291.5,727.5 291.5,715" />
<line x1="270.5" y1="727.5" x2="270.5" y2="750.5" />
<line x1="286.5" y1="727.5" x2="286.5" y2="750.5" />
<line x1="225.5" y1="709" x2="225.5" y2="756" />
<line x1="278.5" y1="709" x2="278.5" y2="756" />
</g>
<line x1="350" y1="614.5" x2="516" y2="614.5" />
<line x1="477.5" y1="614.5" x2="477.5" y2="722.5" />
<polygon points="477.5,614.5 479.6,624.0 475.4,624.0" class="f"/>
<polygon points="477.5,722.5 475.4,713.0 479.6,713.0" class="f"/>
<line x1="350" y1="722.5" x2="482.5" y2="722.5" />
<line x1="513.5" y1="614.5" x2="513.5" y2="750.5" />
<polygon points="513.5,614.5 515.6,624.0 511.4,624.0" class="f"/>
<polygon points="513.5,750.5 511.4,741.0 515.6,741.0" class="f"/>
<line x1="442.5" y1="684.5" x2="442.5" y2="750.5" />
<polygon points="442.5,684.5 444.6,694.0 440.4,694.0" class="f"/>
<polygon points="442.5,750.5 440.4,741.0 444.6,741.0" class="f"/>
<line x1="365" y1="684.5" x2="446" y2="684.5" class="cl2"/>
<path class="t" d="M465.31,681.12 L465.31,676.31 M465.31,676.31 L468.81,678.94 M472.75,682.00 L473.62,681.56 L474.06,681.12 L474.50,679.81 L474.50,678.50 L474.06,677.19 L473.19,676.31 L471.88,675.88 L471.00,675.88 L469.69,676.31 L469.25,676.75 L468.81,677.62 L468.81,678.94 M467.94,672.81 L467.06,672.81 L465.75,671.94 L465.31,670.62 L465.31,669.75 L465.75,668.44 L467.06,667.56 L469.25,667.12 L470.56,667.12 L472.75,667.56 L474.06,668.44 L474.50,669.75 L474.50,670.62 L474.06,671.94 L472.75,672.81 L470.56,673.25 L469.25,673.25 L467.94,672.81 M473.62,663.62 L474.06,664.06 L474.50,663.62 L474.06,663.19 L473.62,663.62 M465.31,659.25 L465.31,654.44 M465.31,654.44 L468.81,657.06 M472.75,660.12 L473.62,659.69 L474.06,659.25 L474.50,657.94 L474.50,656.62 L474.06,655.31 L473.19,654.44 L471.88,654.00 L471.00,654.00 L469.69,654.44 L469.25,654.88 L468.81,655.75 L468.81,657.06"/>
<path class="t" d="M495.44,698.04 L496.29,698.89 L497.56,699.73 L499.24,700.58 L501.36,701.00 L503.04,701.00 L505.16,700.58 L506.84,699.73 L508.11,698.89 L508.96,698.04 M497.13,694.67 L497.13,690.02 M497.13,690.02 L500.51,692.56 M504.31,695.51 L505.16,695.09 L505.58,694.67 L506.00,693.40 L506.00,692.13 L505.58,690.87 L504.73,690.02 L503.47,689.60 L502.62,689.60 L501.36,690.02 L500.93,690.44 L500.51,691.29 L500.51,692.56 M500.93,684.11 L500.51,685.38 L500.09,686.22 L499.24,686.64 L498.40,686.64 L497.56,686.22 M500.93,684.11 L501.36,685.80 L502.20,686.64 L503.04,687.07 L504.31,687.07 L505.16,686.64 L505.58,686.22 L506.00,684.96 L506.00,683.27 L505.58,682.00 L505.16,681.58 L504.31,681.16 L503.04,681.16 L502.20,681.58 L501.36,682.42 L500.93,684.11 M497.56,682.00 L498.40,681.58 L499.24,681.58 L500.09,682.00 L500.51,682.84 L500.93,684.11 M497.56,686.22 L497.13,684.96 L497.13,683.27 L497.56,682.00 M505.16,677.78 L505.58,678.20 L506.00,677.78 L505.58,677.36 L505.16,677.78 M497.13,673.56 L497.13,668.91 M497.13,668.91 L500.51,671.44 M504.31,674.40 L505.16,673.98 L505.58,673.56 L506.00,672.29 L506.00,671.02 L505.58,669.76 L504.73,668.91 L503.47,668.49 L502.62,668.49 L501.36,668.91 L500.93,669.33 L500.51,670.18 L500.51,671.44 M495.44,665.96 L496.29,665.11 L497.56,664.27 L499.24,663.42 L501.36,663.00 L503.04,663.00 L505.16,663.42 L506.84,664.27 L508.11,665.11 L508.96,665.96"/>
<path class="t" d="M421.94,730.04 L422.79,730.89 L424.06,731.73 L425.74,732.58 L427.86,733.00 L429.54,733.00 L431.66,732.58 L433.34,731.73 L434.61,730.89 L435.46,730.04 M423.63,724.13 L424.90,725.40 L425.32,726.24 M423.63,724.13 L432.50,724.13 M427.43,716.11 L427.01,717.38 L426.59,718.22 L425.74,718.64 L424.90,718.64 L424.06,718.22 M427.43,716.11 L427.86,717.80 L428.70,718.64 L429.54,719.07 L430.81,719.07 L431.66,718.64 L432.08,718.22 L432.50,716.96 L432.50,715.27 L432.08,714.00 L431.66,713.58 L430.81,713.16 L429.54,713.16 L428.70,713.58 L427.86,714.42 L427.43,716.11 M424.06,714.00 L424.90,713.58 L425.74,713.58 L426.59,714.00 L427.01,714.84 L427.43,716.11 M424.06,718.22 L423.63,716.96 L423.63,715.27 L424.06,714.00 M431.66,709.78 L432.08,710.20 L432.50,709.78 L432.08,709.36 L431.66,709.78 M423.63,705.56 L423.63,701.33 M430.81,706.40 L431.66,705.98 L432.08,705.56 L432.50,704.29 L432.50,703.02 L432.08,701.76 L431.23,700.91 L429.97,700.49 L429.12,700.49 L427.86,700.91 L427.01,701.76 L426.59,703.02 L426.59,704.29 L427.01,705.56 L427.43,705.98 M423.63,705.56 L427.43,705.98 M421.94,697.96 L422.79,697.11 L424.06,696.27 L425.74,695.42 L427.86,695.00 L429.54,695.00 L431.66,695.42 L433.34,696.27 L434.61,697.11 L435.46,697.96"/>
<line x1="77.5" y1="719.5" x2="77.5" y2="793.5" />
<polygon points="77.5,736.5 75.4,727.0 79.6,727.0" class="f"/>
<polygon points="77.5,750.5 79.6,760.0 75.4,760.0" class="f"/>
<path class="t" d="M65.43,789.14 L65.43,784.39 M65.43,784.39 L68.89,786.98 M72.77,790.00 L73.64,789.57 L74.07,789.14 L74.50,787.84 L74.50,786.55 L74.07,785.25 L73.20,784.39 L71.91,783.95 L71.05,783.95 L69.75,784.39 L69.32,784.82 L68.89,785.68 L68.89,786.98 M73.64,780.50 L74.07,780.93 L74.50,780.50 L74.07,780.07 L73.64,780.50 M69.32,774.02 L68.89,775.32 L68.45,776.18 L67.59,776.61 L66.73,776.61 L65.86,776.18 M69.32,774.02 L69.75,775.75 L70.61,776.61 L71.48,777.05 L72.77,777.05 L73.64,776.61 L74.07,776.18 L74.50,774.89 L74.50,773.16 L74.07,771.86 L73.64,771.43 L72.77,771.00 L71.48,771.00 L70.61,771.43 L69.75,772.30 L69.32,774.02 M65.86,771.86 L66.73,771.43 L67.59,771.43 L68.45,771.86 L68.89,772.73 L69.32,774.02 M65.86,776.18 L65.43,774.89 L65.43,773.16 L65.86,771.86"/>
<line x1="115.5" y1="711" x2="115.5" y2="825.5" />
<line x1="197.5" y1="750" x2="197.5" y2="789.5" />
<line x1="207.5" y1="750" x2="207.5" y2="825.5" />
<line x1="297.5" y1="750" x2="297.5" y2="825.5" />
<line x1="115.5" y1="786.5" x2="197.5" y2="786.5" />
<polygon points="115.5,786.5 125.0,784.4 125.0,788.6" class="f"/>
<polygon points="197.5,786.5 188.0,788.6 188.0,784.4" class="f"/>
<path class="t" d="M143.10,783.50 L147.39,779.21 L148.24,777.93 L148.67,777.07 L148.67,776.21 L148.24,775.36 L147.81,774.93 L146.96,774.50 L145.24,774.50 L144.39,774.93 L143.96,775.36 L143.53,776.21 L143.53,776.64 M143.10,783.50 L149.10,783.50 M151.67,783.50 L155.96,779.21 L156.81,777.93 L157.24,777.07 L157.24,776.21 L156.81,775.36 L156.39,774.93 L155.53,774.50 L153.81,774.50 L152.96,774.93 L152.53,775.36 L152.10,776.21 L152.10,776.64 M151.67,783.50 L157.67,783.50 M161.10,782.64 L160.67,783.07 L161.10,783.50 L161.53,783.07 L161.10,782.64 M164.96,782.21 L165.39,783.07 L166.67,783.50 L167.53,783.50 L168.81,783.07 L169.67,781.79 L170.10,779.64 L170.10,777.50 M170.10,777.50 L169.67,775.79 L168.81,774.93 L167.53,774.50 L167.10,774.50 L165.81,774.93 L164.96,775.79 L164.53,777.07 L164.53,777.50 L164.96,778.79 L165.81,779.64 L167.10,780.07 L167.53,780.07 L168.81,779.64 L169.67,778.79 L170.10,777.50"/>
<line x1="115.5" y1="822.5" x2="297.5" y2="822.5" />
<polygon points="115.5,822.5 125.0,820.4 125.0,824.6" class="f"/>
<polygon points="207.5,822.5 198.0,824.6 198.0,820.4" class="f"/>
<polygon points="207.5,822.5 217.0,820.4 217.0,824.6" class="f"/>
<polygon points="297.5,822.5 288.0,824.6 288.0,820.4" class="f"/>
<path class="t" d="M147.90,819.00 L152.12,814.78 L152.96,813.52 L153.38,812.67 L153.38,811.83 L152.96,810.98 L152.54,810.56 L151.70,810.14 L150.01,810.14 L149.17,810.56 L148.74,810.98 L148.32,811.83 L148.32,812.25 M147.90,819.00 L153.81,819.00 M157.18,810.14 L161.40,810.14 M156.34,817.31 L156.76,818.16 L157.18,818.58 L158.45,819.00 L159.71,819.00 L160.98,818.58 L161.82,817.73 L162.24,816.47 L162.24,815.62 L161.82,814.36 L160.98,813.52 L159.71,813.09 L158.45,813.09 L157.18,813.52 L156.76,813.94 M157.18,810.14 L156.76,813.94 M165.62,818.16 L165.20,818.58 L165.62,819.00 L166.04,818.58 L165.62,818.16 M168.99,810.14 L174.90,810.14 M170.68,819.00 L174.90,810.14"/>
<path class="t" d="M238.30,819.00 L242.45,814.85 L243.28,813.60 L243.70,812.77 L243.70,811.94 L243.28,811.11 L242.87,810.69 L242.04,810.28 L240.38,810.28 L239.55,810.69 L239.13,811.11 L238.72,811.94 L238.72,812.35 M238.30,819.00 L244.12,819.00 M247.44,810.28 L251.59,810.28 M246.61,817.34 L247.02,818.17 L247.44,818.58 L248.68,819.00 L249.93,819.00 L251.18,818.58 L252.01,817.75 L252.42,816.51 L252.42,815.68 L252.01,814.43 L251.18,813.60 L249.93,813.18 L248.68,813.18 L247.44,813.60 L247.02,814.02 M247.44,810.28 L247.02,814.02 M255.75,818.17 L255.33,818.58 L255.75,819.00 L256.16,818.58 L255.75,818.17 M263.22,816.09 L265.30,816.09 M263.22,810.28 L263.22,816.09 M263.22,819.00 L263.22,816.09 M259.07,816.09 L263.22,816.09 M263.22,810.28 L259.07,816.09"/>
<polyline points="300.5,751.5 312,786.5 519.5,786.5" />
<polygon points="300.5,751.5 305.46,759.87 301.47,761.18" class="f"/>
<path class="t" d="M322.50,780.50 L326.77,776.23 L327.63,774.95 L328.05,774.09 L328.05,773.24 L327.63,772.38 L327.20,771.95 L326.35,771.53 L324.64,771.53 L323.78,771.95 L323.35,772.38 L322.93,773.24 L322.93,773.66 M322.50,780.50 L328.48,780.50 M331.47,776.65 L339.16,776.65 M347.50,776.87 L347.30,775.48 L346.74,774.30 L345.91,773.51 L344.93,773.24 L343.95,773.51 L343.12,774.30 L342.56,775.48 L342.37,776.87 L342.56,778.26 L343.12,779.44 L343.95,780.22 L344.93,780.50 L345.91,780.22 L346.74,779.44 L347.30,778.26 L347.50,776.87 M342.15,780.93 L347.71,772.81 M351.13,771.53 L355.83,771.53 M355.83,771.53 L353.26,774.95 M350.27,778.79 L350.70,779.65 L351.13,780.07 L352.41,780.50 L353.69,780.50 L354.97,780.07 L355.83,779.22 L356.25,777.94 L356.25,777.08 L355.83,775.80 L355.40,775.37 L354.55,774.95 L353.26,774.95 M359.67,779.65 L359.25,780.07 L359.67,780.50 L360.10,780.07 L359.67,779.65 M367.36,777.51 L369.50,777.51 M367.36,771.53 L367.36,777.51 M367.36,780.50 L367.36,777.51 M363.09,777.51 L367.36,777.51 M367.36,771.53 L363.09,777.51"/>
<path class="t" d="M328.68,792.55 L327.80,791.67 L326.48,791.22 L324.71,791.22 L323.38,791.67 L322.50,792.55 L322.50,793.43 L322.94,794.32 L323.38,794.76 L324.27,795.20 L326.92,796.08 L327.80,796.52 L328.24,796.97 L328.68,797.85 L328.68,799.17 L327.80,800.06 L326.48,800.50 L324.71,800.50 L323.38,800.06 L322.50,799.17 M331.78,803.59 L331.78,799.17 M331.78,795.64 L331.78,799.17 M331.78,795.64 L332.66,794.76 L333.54,794.32 L334.87,794.32 L335.75,794.76 L336.64,795.64 L337.08,796.97 L337.08,797.85 L336.64,799.17 L335.75,800.06 L334.87,800.50 L333.54,800.50 L332.66,800.06 L331.78,799.17 M331.78,795.64 L331.78,794.32 M340.17,798.73 L339.73,797.85 L339.73,796.97 L340.17,795.64 L341.05,794.76 L341.94,794.32 L343.26,794.32 L344.14,794.76 L345.03,795.64 L345.47,796.97 L345.47,797.85 L345.03,799.17 L344.14,800.06 L343.26,800.50 L341.94,800.50 L341.05,800.06 L340.17,799.17 L340.17,798.73 M349.00,791.22 L349.00,794.32 M349.00,794.32 L349.00,798.73 L349.45,800.06 M351.21,800.50 L350.33,800.50 L349.45,800.06 M349.00,794.32 L350.77,794.32 M349.00,794.32 L347.68,794.32 M361.37,794.32 L361.37,800.50 M361.81,791.67 L362.70,791.22 L363.58,791.22 M361.37,794.32 L363.14,794.32 M361.37,794.32 L361.37,792.99 L361.81,791.67 M361.37,794.32 L360.05,794.32 M371.09,795.64 L371.09,799.17 M371.09,795.64 L370.21,794.76 L369.32,794.32 L368.00,794.32 L367.11,794.76 L366.23,795.64 L365.79,796.97 L365.79,797.85 L366.23,799.17 L367.11,800.06 L368.00,800.50 L369.32,800.50 L370.21,800.06 L371.09,799.17 M371.09,799.17 L371.09,800.50 M371.09,794.32 L371.09,795.64 M379.48,795.64 L378.60,794.76 L377.72,794.32 L376.39,794.32 L375.51,794.76 L374.62,795.64 L374.18,796.97 L374.18,797.85 L374.62,799.17 L375.51,800.06 L376.39,800.50 L377.72,800.50 L378.60,800.06 L379.48,799.17 M382.57,800.50 L382.57,794.32 M382.13,791.22 L382.57,790.78 L383.02,791.22 L382.57,791.67 L382.13,791.22 M386.11,796.08 L387.43,794.76 L388.32,794.32 L389.64,794.32 L390.53,794.76 L390.97,796.08 L390.97,800.50 M386.11,796.08 L386.11,794.32 M386.11,800.50 L386.11,796.08 M399.36,795.64 L399.36,799.17 M399.36,795.64 L398.48,794.76 L397.59,794.32 L396.27,794.32 L395.38,794.76 L394.50,795.64 L394.06,796.97 L394.06,797.85 L394.50,799.17 L395.38,800.06 L396.27,800.50 L397.59,800.50 L398.48,800.06 L399.36,799.17 M395.38,803.15 L396.27,803.59 L397.59,803.59 L398.48,803.15 L398.92,802.71 L399.36,801.38 L399.36,799.17 M399.36,794.32 L399.36,795.64 M402.89,794.76 L403.34,795.20 L403.78,794.76 L403.34,794.32 L402.89,794.76 M403.34,799.62 L402.89,800.06 L403.34,800.50 L403.78,800.06 L403.34,799.62 M412.39,796.75 L412.19,795.31 L411.61,794.09 L410.75,793.28 L409.74,792.99 L408.73,793.28 L407.87,794.09 L407.29,795.31 L407.09,796.75 L407.29,798.18 L407.87,799.40 L408.73,800.21 L409.74,800.50 L410.75,800.21 L411.61,799.40 L412.19,798.18 L412.39,796.75 M406.87,800.94 L412.61,792.55 M415.70,797.41 L416.15,796.08 L417.03,795.20 L418.35,794.76 L418.80,794.76 L420.12,795.20 L421.00,796.08 L421.45,797.41 L421.45,797.85 L421.00,799.17 L420.12,800.06 L418.80,800.50 L418.35,800.50 L417.03,800.06 L416.15,799.17 L415.70,797.41 M421.00,792.55 L420.56,791.67 M415.70,797.41 L415.70,795.20 L416.15,792.99 L417.03,791.67 L418.35,791.22 L419.24,791.22 L420.56,791.67 M424.98,799.62 L424.54,800.06 L424.98,800.50 L425.42,800.06 L424.98,799.62 M432.93,797.41 L435.14,797.41 M432.93,791.22 L432.93,797.41 M432.93,800.50 L432.93,797.41 M428.51,797.41 L432.93,797.41 M432.93,791.22 L428.51,797.41 M438.67,800.06 L438.67,800.94 L438.23,801.83 L437.79,802.27 M438.67,800.06 L438.23,800.50 L437.79,800.06 L438.23,799.62 L438.67,800.06 M449.28,791.22 L452.37,791.22 L453.69,791.67 L454.58,792.55 L455.02,793.43 L455.46,794.76 L455.46,796.97 L455.02,798.29 L454.58,799.17 L453.69,800.06 L452.37,800.50 L449.28,800.50 M449.28,800.50 L449.28,791.22 M458.11,796.97 L458.11,797.85 L458.55,799.17 L459.43,800.06 L460.32,800.50 L461.64,800.50 L462.53,800.06 L463.41,799.17 M463.41,796.97 L458.11,796.97 M463.41,796.97 L463.41,796.08 L462.97,795.20 L462.53,794.76 L461.64,794.32 L460.32,794.32 L459.43,794.76 L458.55,795.64 L458.11,796.97 M466.50,803.59 L466.50,799.17 M466.50,795.64 L466.50,799.17 M466.50,795.64 L467.39,794.76 L468.27,794.32 L469.59,794.32 L470.48,794.76 L471.36,795.64 L471.80,796.97 L471.80,797.85 L471.36,799.17 L470.48,800.06 L469.59,800.50 L468.27,800.50 L467.39,800.06 L466.50,799.17 M466.50,795.64 L466.50,794.32 M475.34,791.22 L475.34,794.32 M475.34,794.32 L475.34,798.73 L475.78,800.06 M477.55,800.50 L476.66,800.50 L475.78,800.06 M475.34,794.32 L477.10,794.32 M475.34,794.32 L474.01,794.32 M480.20,796.08 L481.52,794.76 L482.40,794.32 L483.73,794.32 L484.61,794.76 L485.05,796.08 L485.05,800.50 M480.20,791.22 L480.20,796.08 M480.20,800.50 L480.20,796.08 M488.59,794.76 L489.03,795.20 L489.47,794.76 L489.03,794.32 L488.59,794.76 M489.03,799.62 L488.59,800.06 L489.03,800.50 L489.47,800.06 L489.03,799.62 M492.56,800.50 L496.98,796.08 L497.86,794.76 L498.31,793.87 L498.31,792.99 L497.86,792.11 L497.42,791.67 L496.54,791.22 L494.77,791.22 L493.89,791.67 L493.45,792.11 L493.01,792.99 L493.01,793.43 M492.56,800.50 L498.75,800.50 M502.28,799.62 L501.84,800.06 L502.28,800.50 L502.72,800.06 L502.28,799.62 M505.82,791.22 L512.00,791.22 M507.58,800.50 L512.00,791.22"/>
<path class="t" d="M44.55,550.50 L41.50,537.67 M44.55,550.50 L47.61,537.67 M50.66,550.50 L47.61,537.67 M50.66,550.50 L53.71,537.67 M57.38,544.39 L59.21,542.56 L60.43,541.95 L62.26,541.95 L63.49,542.56 L64.10,544.39 L64.10,550.50 M57.38,537.67 L57.38,544.39 M57.38,550.50 L57.38,544.39 M68.37,545.61 L68.37,546.84 L68.98,548.67 L70.20,549.89 L71.43,550.50 L73.26,550.50 L74.48,549.89 L75.70,548.67 M75.70,545.61 L68.37,545.61 M75.70,545.61 L75.70,544.39 L75.09,543.17 L74.48,542.56 L73.26,541.95 L71.43,541.95 L70.20,542.56 L68.98,543.78 L68.37,545.61 M79.97,544.39 L81.81,542.56 L83.03,541.95 L84.86,541.95 L86.08,542.56 L86.69,544.39 L86.69,550.50 M79.97,544.39 L79.97,541.95 M79.97,550.50 L79.97,544.39 M101.35,544.39 L103.18,542.56 L104.40,541.95 L106.24,541.95 L107.46,542.56 L108.07,544.39 M108.07,544.39 L109.90,542.56 L111.12,541.95 L112.95,541.95 L114.18,542.56 L114.79,544.39 L114.79,550.50 M108.07,544.39 L108.07,550.50 M101.35,544.39 L101.35,541.95 M101.35,550.50 L101.35,544.39 M119.67,548.06 L119.06,546.84 L119.06,545.61 L119.67,543.78 L120.89,542.56 L122.11,541.95 L123.95,541.95 L125.17,542.56 L126.39,543.78 L127.00,545.61 L127.00,546.84 L126.39,548.67 L125.17,549.89 L123.95,550.50 L122.11,550.50 L120.89,549.89 L119.67,548.67 L119.67,548.06 M131.89,549.89 L131.28,548.06 L131.28,541.95 M137.99,548.06 L136.16,549.89 L134.94,550.50 L133.11,550.50 L131.89,549.89 M137.99,548.06 L137.99,541.95 M137.99,550.50 L137.99,548.06 M142.88,544.39 L144.71,542.56 L145.93,541.95 L147.76,541.95 L148.99,542.56 L149.60,544.39 L149.60,550.50 M142.88,544.39 L142.88,541.95 M142.88,550.50 L142.88,544.39 M155.09,537.67 L155.09,541.95 M155.09,541.95 L155.09,548.06 L155.70,549.89 M158.15,550.50 L156.93,550.50 L155.70,549.89 M155.09,541.95 L157.54,541.95 M155.09,541.95 L153.26,541.95 M161.81,550.50 L161.81,541.95 M161.20,537.67 L161.81,537.06 L162.42,537.67 L161.81,538.29 L161.20,537.67 M166.70,544.39 L168.53,542.56 L169.75,541.95 L171.58,541.95 L172.80,542.56 L173.41,544.39 L173.41,550.50 M166.70,544.39 L166.70,541.95 M166.70,550.50 L166.70,544.39 M185.02,543.78 L185.02,548.67 M185.02,543.78 L183.80,542.56 L182.58,541.95 L180.74,541.95 L179.52,542.56 L178.30,543.78 L177.69,545.61 L177.69,546.84 L178.30,548.67 L179.52,549.89 L180.74,550.50 L182.58,550.50 L183.80,549.89 L185.02,548.67 M179.52,554.16 L180.74,554.77 L182.58,554.77 L183.80,554.16 L184.41,553.55 L185.02,551.72 L185.02,548.67 M185.02,541.95 L185.02,543.78 M199.68,543.78 L199.68,548.67 M199.68,537.67 L199.68,543.78 M199.68,543.78 L200.90,542.56 L202.12,541.95 L203.95,541.95 L205.17,542.56 L206.39,543.78 L207.00,545.61 L207.00,546.84 L206.39,548.67 L205.17,549.89 L203.95,550.50 L202.12,550.50 L200.90,549.89 L199.68,548.67 M199.68,548.67 L199.68,550.50 M211.28,550.50 L211.28,545.61 M216.16,541.95 L214.33,541.95 L213.11,542.56 L211.89,543.78 L211.28,545.61 M211.28,541.95 L211.28,545.61 M225.94,543.78 L225.94,548.67 M225.94,543.78 L224.71,542.56 L223.49,541.95 L221.66,541.95 L220.44,542.56 L219.22,543.78 L218.61,545.61 L218.61,546.84 L219.22,548.67 L220.44,549.89 L221.66,550.50 L223.49,550.50 L224.71,549.89 L225.94,548.67 M225.94,548.67 L225.94,550.50 M225.94,541.95 L225.94,543.78 M237.54,543.78 L236.32,542.56 L235.10,541.95 L233.26,541.95 L232.04,542.56 L230.82,543.78 L230.21,545.61 L230.21,546.84 L230.82,548.67 L232.04,549.89 L233.26,550.50 L235.10,550.50 L236.32,549.89 L237.54,548.67 M241.81,537.67 L241.81,548.06 M241.81,548.06 L241.81,550.50 M247.92,541.95 L244.26,545.61 M244.26,545.61 L241.81,548.06 M244.26,545.61 L248.53,550.50 M251.59,545.61 L251.59,546.84 L252.20,548.67 L253.42,549.89 L254.64,550.50 L256.47,550.50 L257.69,549.89 L258.91,548.67 M258.91,545.61 L251.59,545.61 M258.91,545.61 L258.91,544.39 L258.30,543.17 L257.69,542.56 L256.47,541.95 L254.64,541.95 L253.42,542.56 L252.20,543.78 L251.59,545.61 M263.80,537.67 L263.80,541.95 M263.80,541.95 L263.80,548.06 L264.41,549.89 M266.85,550.50 L265.63,550.50 L264.41,549.89 M263.80,541.95 L266.24,541.95 M263.80,541.95 L261.97,541.95 M280.29,550.50 L280.29,541.95 M279.68,537.67 L280.29,537.06 L280.90,537.67 L280.29,538.29 L279.68,537.67 M285.18,542.56 L284.56,543.78 L285.18,545.00 L286.40,545.61 L289.45,546.23 L290.67,546.84 L291.28,548.06 L291.28,548.67 L290.67,549.89 L288.84,550.50 L287.01,550.50 L285.18,549.89 L284.56,548.67 M290.67,542.56 L288.84,541.95 L287.01,541.95 L285.18,542.56 M291.28,543.78 L290.67,542.56 M312.05,543.78 L312.05,548.67 M312.05,543.78 L310.83,542.56 L309.60,541.95 L307.77,541.95 L306.55,542.56 L305.33,543.78 L304.72,545.61 L304.72,546.84 L305.33,548.67 L306.55,549.89 L307.77,550.50 L309.60,550.50 L310.83,549.89 L312.05,548.67 M312.05,548.67 L312.05,550.50 M312.05,541.95 L312.05,543.78 M317.54,537.67 L317.54,541.95 M317.54,541.95 L317.54,548.06 L318.15,549.89 M320.60,550.50 L319.38,550.50 L318.15,549.89 M317.54,541.95 L319.99,541.95 M317.54,541.95 L315.71,541.95 M324.87,537.67 L324.87,541.95 M324.87,541.95 L324.87,548.06 L325.48,549.89 M327.93,550.50 L326.70,550.50 L325.48,549.89 M324.87,541.95 L327.31,541.95 M324.87,541.95 L323.04,541.95 M338.31,543.78 L338.31,548.67 M338.31,543.78 L337.09,542.56 L335.86,541.95 L334.03,541.95 L332.81,542.56 L331.59,543.78 L330.98,545.61 L330.98,546.84 L331.59,548.67 L332.81,549.89 L334.03,550.50 L335.86,550.50 L337.09,549.89 L338.31,548.67 M338.31,548.67 L338.31,550.50 M338.31,541.95 L338.31,543.78 M349.91,543.78 L348.69,542.56 L347.47,541.95 L345.64,541.95 L344.41,542.56 L343.19,543.78 L342.58,545.61 L342.58,546.84 L343.19,548.67 L344.41,549.89 L345.64,550.50 L347.47,550.50 L348.69,549.89 L349.91,548.67 M354.19,544.39 L356.02,542.56 L357.24,541.95 L359.07,541.95 L360.29,542.56 L360.90,544.39 L360.90,550.50 M354.19,537.67 L354.19,544.39 M354.19,550.50 L354.19,544.39 M365.18,545.61 L365.18,546.84 L365.79,548.67 L367.01,549.89 L368.23,550.50 L370.06,550.50 L371.29,549.89 L372.51,548.67 M372.51,545.61 L365.18,545.61 M372.51,545.61 L372.51,544.39 L371.90,543.17 L371.29,542.56 L370.06,541.95 L368.23,541.95 L367.01,542.56 L365.79,543.78 L365.18,545.61 M383.50,543.78 L383.50,548.67 M383.50,537.67 L383.50,543.78 M383.50,543.78 L382.28,542.56 L381.06,541.95 L379.23,541.95 L378.00,542.56 L376.78,543.78 L376.17,545.61 L376.17,546.84 L376.78,548.67 L378.00,549.89 L379.23,550.50 L381.06,550.50 L382.28,549.89 L383.50,548.67 M383.50,548.67 L383.50,550.50"/>
<path class="t" d="M42.10,567.52 L41.50,568.72 L41.50,571.71 L42.10,573.51 L42.70,574.70 L43.89,575.90 L45.09,576.50 L47.49,576.50 L48.68,575.90 L49.88,574.70 L50.48,573.51 L51.08,571.71 L51.08,568.72 L50.48,566.92 L49.88,565.72 L48.68,564.53 L47.49,563.93 L45.09,563.93 L43.89,564.53 L42.70,565.72 L42.10,567.52 M55.27,563.93 L60.66,563.93 L62.45,564.53 L63.05,565.13 L63.65,566.32 L63.65,568.12 L63.05,569.32 L62.45,569.92 L60.66,570.51 L55.27,570.51 M55.27,570.51 L55.27,576.50 M55.27,570.51 L55.27,563.93 M67.84,571.11 L78.61,571.11 M82.80,563.93 L91.19,563.93 M85.20,576.50 L91.19,563.93 M95.97,563.93 L102.56,563.93 M102.56,563.93 L98.97,568.72 M94.78,574.11 L95.38,575.30 L95.97,575.90 L97.77,576.50 L99.57,576.50 L101.36,575.90 L102.56,574.70 L103.16,572.91 L103.16,571.71 L102.56,569.92 L101.96,569.32 L100.76,568.72 L98.97,568.72 M110.94,569.32 L109.14,568.72 L107.95,568.12 L107.35,566.92 L107.35,565.72 L107.95,564.53 M110.94,569.32 L108.54,569.92 L107.35,571.11 L106.75,572.31 L106.75,574.11 L107.35,575.30 L107.95,575.90 L109.74,576.50 L112.14,576.50 L113.93,575.90 L114.53,575.30 L115.13,574.11 L115.13,572.31 L114.53,571.11 L113.33,569.92 L110.94,569.32 M113.93,564.53 L114.53,565.72 L114.53,566.92 L113.93,568.12 L112.74,568.72 L110.94,569.32 M107.95,564.53 L109.74,563.93 L112.14,563.93 L113.93,564.53 M122.91,569.32 L121.12,568.72 L119.92,568.12 L119.32,566.92 L119.32,565.72 L119.92,564.53 M122.91,569.32 L120.52,569.92 L119.32,571.11 L118.72,572.31 L118.72,574.11 L119.32,575.30 L119.92,575.90 L121.71,576.50 L124.11,576.50 L125.90,575.90 L126.50,575.30 L127.10,574.11 L127.10,572.31 L126.50,571.11 L125.31,569.92 L122.91,569.32 M125.90,564.53 L126.50,565.72 L126.50,566.92 L125.90,568.12 L124.71,568.72 L122.91,569.32 M119.92,564.53 L121.71,563.93 L124.11,563.93 L125.90,564.53 M131.29,567.52 L131.29,566.32 L132.49,564.53 L134.29,563.93 L135.48,563.93 L137.28,564.53 L138.48,566.32 L139.07,569.32 L139.07,571.11 L138.48,574.11 L137.28,575.90 L135.48,576.50 L134.29,576.50 L132.49,575.90 L131.29,574.11 L130.69,571.11 L130.69,569.32 L131.29,567.52 M147.46,561.53 L146.26,562.73 L145.06,564.53 L143.86,566.92 L143.26,569.92 L143.26,572.31 L143.86,575.30 L145.06,577.70 L146.26,579.49 L147.46,580.69 M151.65,567.52 L151.05,568.72 L151.05,571.71 L151.65,573.51 L152.24,574.70 L153.44,575.90 L154.64,576.50 L157.03,576.50 L158.23,575.90 L159.43,574.70 L160.03,573.51 L160.62,571.71 L160.62,568.72 L160.03,566.92 L159.43,565.72 L158.23,564.53 L157.03,563.93 L154.64,563.93 L153.44,564.53 L152.24,565.72 L151.65,567.52 M164.81,580.69 L164.81,574.70 M164.81,569.92 L164.81,574.70 M164.81,569.92 L166.01,568.72 L167.21,568.12 L169.01,568.12 L170.20,568.72 L171.40,569.92 L172.00,571.71 L172.00,572.91 L171.40,574.70 L170.20,575.90 L169.01,576.50 L167.21,576.50 L166.01,575.90 L164.81,574.70 M164.81,569.92 L164.81,568.12 M176.79,563.93 L176.79,568.12 M176.79,568.12 L176.79,574.11 L177.39,575.90 M179.78,576.50 L178.58,576.50 L177.39,575.90 M176.79,568.12 L179.18,568.12 M176.79,568.12 L174.99,568.12 M183.37,576.50 L183.37,568.12 M182.77,563.93 L183.37,563.33 L183.97,563.93 L183.37,564.53 L182.77,563.93 M188.16,574.11 L187.56,572.91 L187.56,571.71 L188.16,569.92 L189.36,568.72 L190.56,568.12 L192.35,568.12 L193.55,568.72 L194.75,569.92 L195.34,571.71 L195.34,572.91 L194.75,574.70 L193.55,575.90 L192.35,576.50 L190.56,576.50 L189.36,575.90 L188.16,574.70 L188.16,574.11 M199.53,570.51 L201.33,568.72 L202.53,568.12 L204.32,568.12 L205.52,568.72 L206.12,570.51 L206.12,576.50 M199.53,570.51 L199.53,568.12 M199.53,576.50 L199.53,570.51 M210.31,561.53 L211.51,562.73 L212.70,564.53 L213.90,566.92 L214.50,569.92 L214.50,572.31 L213.90,575.30 L212.70,577.70 L211.51,579.49 L210.31,580.69"/>
<path class="t" d="M585.50,543.95 L590.86,543.95 M585.50,538.00 L590.86,538.00 L592.64,538.60 L593.24,539.19 L593.83,540.38 L593.83,541.57 L593.24,542.76 L592.64,543.36 L590.86,543.95 M585.50,543.95 L585.50,538.00 M585.50,543.95 L585.50,550.50 M585.50,550.50 L590.86,550.50 L592.64,549.90 L593.24,549.31 L593.83,548.12 L593.83,546.33 L593.24,545.14 L592.64,544.55 L590.86,543.95 M604.54,543.95 L604.54,548.71 M604.54,543.95 L603.35,542.76 L602.16,542.17 L600.38,542.17 L599.19,542.76 L598.00,543.95 L597.40,545.74 L597.40,546.93 L598.00,548.71 L599.19,549.90 L600.38,550.50 L602.16,550.50 L603.35,549.90 L604.54,548.71 M604.54,548.71 L604.54,550.50 M604.54,542.17 L604.54,543.95 M615.85,543.95 L614.66,542.76 L613.47,542.17 L611.68,542.17 L610.49,542.76 L609.30,543.95 L608.71,545.74 L608.71,546.93 L609.30,548.71 L610.49,549.90 L611.68,550.50 L613.47,550.50 L614.66,549.90 L615.85,548.71 M620.02,538.00 L620.02,548.12 M620.02,548.12 L620.02,550.50 M625.97,542.17 L622.40,545.74 M622.40,545.74 L620.02,548.12 M622.40,545.74 L626.56,550.50 M639.65,542.76 L639.06,543.95 L639.65,545.14 L640.84,545.74 L643.82,546.33 L645.01,546.93 L645.60,548.12 L645.60,548.71 L645.01,549.90 L643.22,550.50 L641.44,550.50 L639.65,549.90 L639.06,548.71 M645.01,542.76 L643.22,542.17 L641.44,542.17 L639.65,542.76 M645.60,543.95 L645.01,542.76 M649.77,550.50 L649.77,542.17 M649.17,538.00 L649.77,537.41 L650.37,538.00 L649.77,538.60 L649.17,538.00 M661.08,543.95 L661.08,548.71 M661.08,538.00 L661.08,543.95 M661.08,543.95 L659.89,542.76 L658.70,542.17 L656.91,542.17 L655.72,542.76 L654.53,543.95 L653.94,545.74 L653.94,546.93 L654.53,548.71 L655.72,549.90 L656.91,550.50 L658.70,550.50 L659.89,549.90 L661.08,548.71 M661.08,548.71 L661.08,550.50 M665.24,545.74 L665.24,546.93 L665.84,548.71 L667.03,549.90 L668.22,550.50 L670.00,550.50 L671.19,549.90 L672.38,548.71 M672.38,545.74 L665.24,545.74 M672.38,545.74 L672.38,544.55 L671.79,543.36 L671.19,542.76 L670.00,542.17 L668.22,542.17 L667.03,542.76 L665.84,543.95 L665.24,545.74 M686.07,548.12 L685.48,546.93 L685.48,545.74 L686.07,543.95 L687.26,542.76 L688.45,542.17 L690.24,542.17 L691.43,542.76 L692.62,543.95 L693.21,545.74 L693.21,546.93 L692.62,548.71 L691.43,549.90 L690.24,550.50 L688.45,550.50 L687.26,549.90 L686.07,548.71 L686.07,548.12 M697.97,542.17 L697.97,550.50 M698.57,538.60 L699.76,538.00 L700.95,538.00 M697.97,542.17 L700.35,542.17 M697.97,542.17 L697.97,540.38 L698.57,538.60 M697.97,542.17 L696.19,542.17 M714.04,543.95 L714.04,548.71 M714.04,538.00 L714.04,543.95 M714.04,543.95 L715.23,542.76 L716.42,542.17 L718.21,542.17 L719.40,542.76 L720.59,543.95 L721.18,545.74 L721.18,546.93 L720.59,548.71 L719.40,549.90 L718.21,550.50 L716.42,550.50 L715.23,549.90 L714.04,548.71 M714.04,548.71 L714.04,550.50 M725.35,550.50 L725.35,545.74 M730.11,542.17 L728.32,542.17 L727.13,542.76 L725.94,543.95 L725.35,545.74 M725.35,542.17 L725.35,545.74 M739.63,543.95 L739.63,548.71 M739.63,543.95 L738.44,542.76 L737.25,542.17 L735.46,542.17 L734.27,542.76 L733.08,543.95 L732.49,545.74 L732.49,546.93 L733.08,548.71 L734.27,549.90 L735.46,550.50 L737.25,550.50 L738.44,549.90 L739.63,548.71 M739.63,548.71 L739.63,550.50 M739.63,542.17 L739.63,543.95 M750.94,543.95 L749.75,542.76 L748.56,542.17 L746.77,542.17 L745.58,542.76 L744.39,543.95 L743.79,545.74 L743.79,546.93 L744.39,548.71 L745.58,549.90 L746.77,550.50 L748.56,550.50 L749.75,549.90 L750.94,548.71 M755.10,538.00 L755.10,548.12 M755.10,548.12 L755.10,550.50 M761.05,542.17 L757.48,545.74 M757.48,545.74 L755.10,548.12 M757.48,545.74 L761.65,550.50 M764.62,545.74 L764.62,546.93 L765.22,548.71 L766.41,549.90 L767.60,550.50 L769.38,550.50 L770.57,549.90 L771.76,548.71 M771.76,545.74 L764.62,545.74 M771.76,545.74 L771.76,544.55 L771.17,543.36 L770.57,542.76 L769.38,542.17 L767.60,542.17 L766.41,542.76 L765.22,543.95 L764.62,545.74 M776.52,538.00 L776.52,542.17 M776.52,542.17 L776.52,548.12 L777.12,549.90 M779.50,550.50 L778.31,550.50 L777.12,549.90 M776.52,542.17 L778.90,542.17 M776.52,542.17 L774.74,542.17"/>
<rect x="649.5" y="629.5" width="110" height="35" rx="2"/>
<circle cx="677.5" cy="646.5" r="7.5" />
<path d="M690.3,646.5 A12.8,12.8 0 1 0 671.7,657.9" />
<line x1="674.5" y1="646.5" x2="680.5" y2="646.5" />
<line x1="677.5" y1="643.5" x2="677.5" y2="649.5" />
<circle cx="730.5" cy="646.5" r="7.5" />
<path d="M743.3,646.5 A12.8,12.8 0 1 0 724.7,657.9" />
<line x1="727.5" y1="646.5" x2="733.5" y2="646.5" />
<line x1="730.5" y1="643.5" x2="730.5" y2="649.5" />
<path d="M642,646.5 H662 M664,646.5 H697.5 M701,646.5 H702.5 M705,646.5 H707 M710,646.5 H743 M746.5,646.5 H767" />
<path d="M704.5,622 V644 M704.5,646 V647.5 M704.5,649 V671" />
<path d="M677.5,626 V668 M677.5,670.5 V706 M730.5,626 V668 M730.5,670.5 V706" />
<line x1="649.5" y1="665.5" x2="649.5" y2="740" />
<line x1="759.5" y1="665.5" x2="759.5" y2="740" />
<line x1="677.5" y1="701.5" x2="730.5" y2="701.5" />
<polygon points="677.5,701.5 687.0,699.4 687.0,703.6" class="f"/>
<polygon points="730.5,701.5 721.0,703.6 721.0,699.4" class="f"/>
<line x1="649.5" y1="737.5" x2="759" y2="737.5" />
<polygon points="649.5,737.5 659.0,735.4 659.0,739.6" class="f"/>
<polygon points="759,737.5 749.5,739.6 749.5,735.4" class="f"/>
<path class="t" d="M699.27,689.05 L697.92,690.40 L697.02,690.85 M699.27,689.05 L699.27,698.50 M705.57,689.05 L710.07,689.05 M704.67,696.70 L705.12,697.60 L705.57,698.05 L706.92,698.50 L708.27,698.50 L709.62,698.05 L710.52,697.15 L710.98,695.80 L710.98,694.90 L710.52,693.55 L709.62,692.65 L708.27,692.20 L706.92,692.20 L705.57,692.65 L705.12,693.10 M705.57,689.05 L705.12,693.10"/>
<path class="t" d="M698.60,724.05 L703.55,724.05 M703.55,724.05 L700.85,727.65 M697.70,731.70 L698.15,732.60 L698.60,733.05 L699.95,733.50 L701.30,733.50 L702.65,733.05 L703.55,732.15 L704.00,730.80 L704.00,729.90 L703.55,728.55 L703.10,728.10 L702.20,727.65 L700.85,727.65 M710.30,724.05 L708.95,725.40 L708.05,725.85 M710.30,724.05 L710.30,733.50"/>
<line x1="762" y1="629.5" x2="806" y2="629.5" />
<line x1="762" y1="664" x2="806" y2="664" />
<line x1="801.5" y1="629.5" x2="801.5" y2="664" />
<polygon points="801.5,629.5 803.6,639.0 799.4,639.0" class="f"/>
<polygon points="801.5,664 799.4,654.5 803.6,654.5" class="f"/>
<path class="t" d="M796.77,655.59 L797.59,655.18 L798.00,653.95 L798.00,653.14 L797.59,651.91 L796.36,651.09 L794.32,650.68 L792.27,650.68 M792.27,650.68 L790.64,651.09 L789.82,651.91 L789.41,653.14 L789.41,653.55 L789.82,654.77 L790.64,655.59 L791.86,656.00 L792.27,656.00 L793.50,655.59 L794.32,654.77 L794.73,653.55 L794.73,653.14 L794.32,651.91 L793.50,651.09 L792.27,650.68 M797.18,647.00 L797.59,647.41 L798.00,647.00 L797.59,646.59 L797.18,647.00 M793.09,640.86 L792.68,642.09 L792.27,642.91 L791.45,643.32 L790.64,643.32 L789.82,642.91 M793.09,640.86 L793.50,642.50 L794.32,643.32 L795.14,643.73 L796.36,643.73 L797.18,643.32 L797.59,642.91 L798.00,641.68 L798.00,640.05 L797.59,638.82 L797.18,638.41 L796.36,638.00 L795.14,638.00 L794.32,638.41 L793.50,639.23 L793.09,640.86 M789.82,638.82 L790.64,638.41 L791.45,638.41 L792.27,638.82 L792.68,639.64 L793.09,640.86 M789.82,642.91 L789.41,641.68 L789.41,640.05 L789.82,638.82"/>
<polyline points="738,636 772.5,583.5 980,583.5" />
<polygon points="738,636 741.42,626.89 744.94,629.18" class="f"/>
<path class="t" d="M782.00,577.50 L786.24,573.26 L787.09,571.99 L787.51,571.14 L787.51,570.29 L787.09,569.45 L786.66,569.02 L785.82,568.60 L784.12,568.60 L783.27,569.02 L782.85,569.45 L782.42,570.29 L782.42,570.72 M782.00,577.50 L787.93,577.50 M790.90,573.68 L798.53,573.68 M804.89,566.90 L804.04,567.75 L803.20,569.02 L802.35,570.72 L801.92,572.84 L801.92,574.53 L802.35,576.65 L803.20,578.35 L804.04,579.62 L804.89,580.47 M811.67,574.53 L813.79,574.53 M811.67,568.60 L811.67,574.53 M811.67,577.50 L811.67,574.53 M807.43,574.53 L811.67,574.53 M811.67,568.60 L807.43,574.53 M816.76,576.65 L816.34,577.08 L816.76,577.50 L817.18,577.08 L816.76,576.65 M824.39,574.53 L826.51,574.53 M824.39,568.60 L824.39,574.53 M824.39,577.50 L824.39,574.53 M820.15,574.53 L824.39,574.53 M824.39,568.60 L820.15,574.53 M830.75,574.53 L828.63,571.57 M830.75,574.53 L828.63,577.50 M830.75,574.53 L833.29,571.57 M830.75,574.53 L833.29,577.50 M836.68,568.60 L841.35,568.60 M841.35,568.60 L838.80,571.99 M835.84,575.80 L836.26,576.65 L836.68,577.08 L837.96,577.50 L839.23,577.50 L840.50,577.08 L841.35,576.23 L841.77,574.96 L841.77,574.11 L841.35,572.84 L840.92,572.41 L840.08,571.99 L838.80,571.99 M845.16,576.65 L844.74,577.08 L845.16,577.50 L845.59,577.08 L845.16,576.65 M852.79,574.53 L854.91,574.53 M852.79,568.60 L852.79,574.53 M852.79,577.50 L852.79,574.53 M848.55,574.53 L852.79,574.53 M852.79,568.60 L848.55,574.53 M857.03,566.90 L857.88,567.75 L858.73,569.02 L859.58,570.72 L860.00,572.84 L860.00,574.53 L859.58,576.65 L858.73,578.35 L857.88,579.62 L857.03,580.47"/>
<path class="t" d="M788.22,591.01 L787.33,590.12 L786.00,589.67 L784.22,589.67 L782.89,590.12 L782.00,591.01 L782.00,591.90 L782.44,592.78 L782.89,593.23 L783.78,593.67 L786.44,594.56 L787.33,595.00 L787.77,595.45 L788.22,596.34 L788.22,597.67 L787.33,598.56 L786.00,599.00 L784.22,599.00 L782.89,598.56 L782.00,597.67 M791.33,602.11 L791.33,597.67 M791.33,594.12 L791.33,597.67 M791.33,594.12 L792.21,593.23 L793.10,592.78 L794.43,592.78 L795.32,593.23 L796.21,594.12 L796.65,595.45 L796.65,596.34 L796.21,597.67 L795.32,598.56 L794.43,599.00 L793.10,599.00 L792.21,598.56 L791.33,597.67 M791.33,594.12 L791.33,592.78 M799.76,597.22 L799.32,596.34 L799.32,595.45 L799.76,594.12 L800.65,593.23 L801.54,592.78 L802.87,592.78 L803.76,593.23 L804.65,594.12 L805.09,595.45 L805.09,596.34 L804.65,597.67 L803.76,598.56 L802.87,599.00 L801.54,599.00 L800.65,598.56 L799.76,597.67 L799.76,597.22 M808.64,589.67 L808.64,592.78 M808.64,592.78 L808.64,597.22 L809.09,598.56 M810.86,599.00 L809.98,599.00 L809.09,598.56 M808.64,592.78 L810.42,592.78 M808.64,592.78 L807.31,592.78 M821.08,592.78 L821.08,599.00 M821.52,590.12 L822.41,589.67 L823.30,589.67 M821.08,592.78 L822.85,592.78 M821.08,592.78 L821.08,591.45 L821.52,590.12 M821.08,592.78 L819.74,592.78 M830.85,594.12 L830.85,597.67 M830.85,594.12 L829.96,593.23 L829.07,592.78 L827.74,592.78 L826.85,593.23 L825.96,594.12 L825.52,595.45 L825.52,596.34 L825.96,597.67 L826.85,598.56 L827.74,599.00 L829.07,599.00 L829.96,598.56 L830.85,597.67 M830.85,597.67 L830.85,599.00 M830.85,592.78 L830.85,594.12 M839.28,594.12 L838.40,593.23 L837.51,592.78 L836.17,592.78 L835.29,593.23 L834.40,594.12 L833.95,595.45 L833.95,596.34 L834.40,597.67 L835.29,598.56 L836.17,599.00 L837.51,599.00 L838.40,598.56 L839.28,597.67 M842.39,599.00 L842.39,592.78 M841.95,589.67 L842.39,589.23 L842.84,589.67 L842.39,590.12 L841.95,589.67 M845.94,594.56 L847.28,593.23 L848.16,592.78 L849.50,592.78 L850.38,593.23 L850.83,594.56 L850.83,599.00 M845.94,594.56 L845.94,592.78 M845.94,599.00 L845.94,594.56 M859.27,594.12 L859.27,597.67 M859.27,594.12 L858.38,593.23 L857.49,592.78 L856.16,592.78 L855.27,593.23 L854.38,594.12 L853.94,595.45 L853.94,596.34 L854.38,597.67 L855.27,598.56 L856.16,599.00 L857.49,599.00 L858.38,598.56 L859.27,597.67 M855.27,601.66 L856.16,602.11 L857.49,602.11 L858.38,601.66 L858.82,601.22 L859.27,599.89 L859.27,597.67 M859.27,592.78 L859.27,594.12 M862.82,593.23 L863.26,593.67 L863.71,593.23 L863.26,592.78 L862.82,593.23 M863.26,598.11 L862.82,598.56 L863.26,599.00 L863.71,598.56 L863.26,598.11 M872.37,595.23 L872.16,593.78 L871.59,592.56 L870.72,591.74 L869.70,591.45 L868.68,591.74 L867.82,592.56 L867.24,593.78 L867.04,595.23 L867.24,596.67 L867.82,597.89 L868.68,598.71 L869.70,599.00 L870.72,598.71 L871.59,597.89 L872.16,596.67 L872.37,595.23 M866.81,599.44 L872.59,591.01 M875.25,589.67 L881.47,589.67 M877.03,599.00 L881.47,589.67 M885.02,598.11 L884.58,598.56 L885.02,599.00 L885.47,598.56 L885.02,598.11 M888.57,599.00 L893.01,594.56 L893.90,593.23 L894.35,592.34 L894.35,591.45 L893.90,590.56 L893.46,590.12 L892.57,589.67 L890.79,589.67 L889.91,590.12 L889.46,590.56 L889.02,591.45 L889.02,591.90 M888.57,599.00 L894.79,599.00 M898.79,598.56 L898.79,599.44 L898.34,600.33 L897.90,600.78 M898.79,598.56 L898.34,599.00 L897.90,598.56 L898.34,598.11 L898.79,598.56 M909.44,589.67 L912.55,589.67 L913.88,590.12 L914.77,591.01 L915.22,591.90 L915.66,593.23 L915.66,595.45 L915.22,596.78 L914.77,597.67 L913.88,598.56 L912.55,599.00 L909.44,599.00 M909.44,599.00 L909.44,589.67 M918.33,595.45 L918.33,596.34 L918.77,597.67 L919.66,598.56 L920.55,599.00 L921.88,599.00 L922.77,598.56 L923.65,597.67 M923.65,595.45 L918.33,595.45 M923.65,595.45 L923.65,594.56 L923.21,593.67 L922.77,593.23 L921.88,592.78 L920.55,592.78 L919.66,593.23 L918.77,594.12 L918.33,595.45 M926.76,602.11 L926.76,597.67 M926.76,594.12 L926.76,597.67 M926.76,594.12 L927.65,593.23 L928.54,592.78 L929.87,592.78 L930.76,593.23 L931.65,594.12 L932.09,595.45 L932.09,596.34 L931.65,597.67 L930.76,598.56 L929.87,599.00 L928.54,599.00 L927.65,598.56 L926.76,597.67 M926.76,594.12 L926.76,592.78 M935.64,589.67 L935.64,592.78 M935.64,592.78 L935.64,597.22 L936.09,598.56 M937.86,599.00 L936.98,599.00 L936.09,598.56 M935.64,592.78 L937.42,592.78 M935.64,592.78 L934.31,592.78 M940.53,594.56 L941.86,593.23 L942.75,592.78 L944.08,592.78 L944.97,593.23 L945.41,594.56 L945.41,599.00 M940.53,589.67 L940.53,594.56 M940.53,599.00 L940.53,594.56 M948.97,593.23 L949.41,593.67 L949.85,593.23 L949.41,592.78 L948.97,593.23 M949.41,598.11 L948.97,598.56 L949.41,599.00 L949.85,598.56 L949.41,598.11 M953.85,589.67 L958.73,589.67 M958.73,589.67 L956.07,593.23 M952.96,597.22 L953.41,598.11 L953.85,598.56 L955.18,599.00 L956.51,599.00 L957.85,598.56 L958.73,597.67 L959.18,596.34 L959.18,595.45 L958.73,594.12 L958.29,593.67 L957.40,593.23 L956.07,593.23 M962.73,598.11 L962.29,598.56 L962.73,599.00 L963.17,598.56 L962.73,598.11 M966.28,599.00 L970.72,594.56 L971.61,593.23 L972.06,592.34 L972.06,591.45 L971.61,590.56 L971.17,590.12 L970.28,589.67 L968.50,589.67 L967.62,590.12 L967.17,590.56 L966.73,591.45 L966.73,591.90 M966.28,599.00 L972.50,599.00"/>
<path class="t" d="M52.17,893.80 L52.17,906.50 M52.17,893.80 L47.34,906.50 M42.50,893.80 L47.34,906.50 M42.50,906.50 L42.50,893.80 M60.64,899.24 L58.82,898.64 L57.61,898.04 L57.01,896.83 L57.01,895.62 L57.61,894.41 M60.64,899.24 L58.22,899.85 L57.01,901.06 L56.41,902.27 L56.41,904.08 L57.01,905.29 L57.61,905.90 L59.43,906.50 L61.85,906.50 L63.66,905.90 L64.27,905.29 L64.87,904.08 L64.87,902.27 L64.27,901.06 L63.06,899.85 L60.64,899.24 M63.66,894.41 L64.27,895.62 L64.27,896.83 L63.66,898.04 L62.45,898.64 L60.64,899.24 M57.61,894.41 L59.43,893.80 L61.85,893.80 L63.66,894.41 M87.24,896.83 L86.64,895.62 L85.43,894.41 L84.22,893.80 L81.80,893.80 L80.59,894.41 L79.38,895.62 L78.78,896.83 L78.17,898.64 L78.17,901.66 L78.78,903.48 L79.38,904.69 L80.59,905.90 L81.80,906.50 L84.22,906.50 L85.43,905.90 L86.64,904.69 L87.24,903.48 M91.47,904.08 L90.87,902.87 L90.87,901.66 L91.47,899.85 L92.68,898.64 L93.89,898.04 L95.70,898.04 L96.91,898.64 L98.12,899.85 L98.73,901.66 L98.73,902.87 L98.12,904.69 L96.91,905.90 L95.70,906.50 L93.89,906.50 L92.68,905.90 L91.47,904.69 L91.47,904.08 M102.96,900.45 L104.77,898.64 L105.98,898.04 L107.80,898.04 L109.01,898.64 L109.61,900.45 L109.61,906.50 M102.96,900.45 L102.96,898.04 M102.96,906.50 L102.96,900.45 M114.45,900.45 L116.26,898.64 L117.47,898.04 L119.28,898.04 L120.49,898.64 L121.10,900.45 L121.10,906.50 M114.45,900.45 L114.45,898.04 M114.45,906.50 L114.45,900.45 M125.33,901.66 L125.33,902.87 L125.93,904.69 L127.14,905.90 L128.35,906.50 L130.17,906.50 L131.38,905.90 L132.59,904.69 M132.59,901.66 L125.33,901.66 M132.59,901.66 L132.59,900.45 L131.98,899.24 L131.38,898.64 L130.17,898.04 L128.35,898.04 L127.14,898.64 L125.93,899.85 L125.33,901.66 M143.47,899.85 L142.26,898.64 L141.05,898.04 L139.24,898.04 L138.03,898.64 L136.82,899.85 L136.21,901.66 L136.21,902.87 L136.82,904.69 L138.03,905.90 L139.24,906.50 L141.05,906.50 L142.26,905.90 L143.47,904.69 M148.30,893.80 L148.30,898.04 M148.30,898.04 L148.30,904.08 L148.91,905.90 M151.33,906.50 L150.12,906.50 L148.91,905.90 M148.30,898.04 L150.72,898.04 M148.30,898.04 L146.49,898.04 M154.96,904.08 L154.35,902.87 L154.35,901.66 L154.96,899.85 L156.16,898.64 L157.37,898.04 L159.19,898.04 L160.40,898.64 L161.61,899.85 L162.21,901.66 L162.21,902.87 L161.61,904.69 L160.40,905.90 L159.19,906.50 L157.37,906.50 L156.16,905.90 L154.96,904.69 L154.96,904.08 M166.44,906.50 L166.44,901.66 M171.28,898.04 L169.47,898.04 L168.26,898.64 L167.05,899.85 L166.44,901.66 M166.44,898.04 L166.44,901.66 M190.63,899.85 L189.42,898.64 L188.21,898.04 L186.39,898.04 L185.19,898.64 L183.98,899.85 L183.37,901.66 L183.37,902.87 L183.98,904.69 L185.19,905.90 L186.39,906.50 L188.21,906.50 L189.42,905.90 L190.63,904.69 M201.51,899.85 L201.51,904.69 M201.51,899.85 L200.30,898.64 L199.09,898.04 L197.28,898.04 L196.07,898.64 L194.86,899.85 L194.25,901.66 L194.25,902.87 L194.86,904.69 L196.07,905.90 L197.28,906.50 L199.09,906.50 L200.30,905.90 L201.51,904.69 M201.51,904.69 L201.51,906.50 M201.51,898.04 L201.51,899.85 M206.35,899.85 L206.35,904.69 M206.35,893.80 L206.35,899.85 M206.35,899.85 L207.56,898.64 L208.76,898.04 L210.58,898.04 L211.79,898.64 L213.00,899.85 L213.60,901.66 L213.60,902.87 L213.00,904.69 L211.79,905.90 L210.58,906.50 L208.76,906.50 L207.56,905.90 L206.35,904.69 M206.35,904.69 L206.35,906.50 M217.83,906.50 L217.83,893.80 M222.07,901.66 L222.07,902.87 L222.67,904.69 L223.88,905.90 L225.09,906.50 L226.90,906.50 L228.11,905.90 L229.32,904.69 M229.32,901.66 L222.07,901.66 M229.32,901.66 L229.32,900.45 L228.72,899.24 L228.11,898.64 L226.90,898.04 L225.09,898.04 L223.88,898.64 L222.67,899.85 L222.07,901.66 M237.79,891.39 L236.58,892.59 L235.37,894.41 L234.16,896.83 L233.55,899.85 L233.55,902.27 L234.16,905.29 L235.37,907.71 L236.58,909.52 L237.79,910.73 M242.02,897.43 L241.41,898.64 L241.41,901.66 L242.02,903.48 L242.62,904.69 L243.83,905.90 L245.04,906.50 L247.46,906.50 L248.67,905.90 L249.88,904.69 L250.48,903.48 L251.09,901.66 L251.09,898.64 L250.48,896.83 L249.88,895.62 L248.67,894.41 L247.46,893.80 L245.04,893.80 L243.83,894.41 L242.62,895.62 L242.02,897.43 M255.32,910.73 L255.32,904.69 M255.32,899.85 L255.32,904.69 M255.32,899.85 L256.53,898.64 L257.74,898.04 L259.55,898.04 L260.76,898.64 L261.97,899.85 L262.57,901.66 L262.57,902.87 L261.97,904.69 L260.76,905.90 L259.55,906.50 L257.74,906.50 L256.53,905.90 L255.32,904.69 M255.32,899.85 L255.32,898.04 M267.41,893.80 L267.41,898.04 M267.41,898.04 L267.41,904.08 L268.01,905.90 M270.43,906.50 L269.22,906.50 L268.01,905.90 M267.41,898.04 L269.83,898.04 M267.41,898.04 L265.60,898.04 M274.06,906.50 L274.06,898.04 M273.46,893.80 L274.06,893.20 L274.67,893.80 L274.06,894.41 L273.46,893.80 M278.90,904.08 L278.29,902.87 L278.29,901.66 L278.90,899.85 L280.11,898.64 L281.32,898.04 L283.13,898.04 L284.34,898.64 L285.55,899.85 L286.15,901.66 L286.15,902.87 L285.55,904.69 L284.34,905.90 L283.13,906.50 L281.32,906.50 L280.11,905.90 L278.90,904.69 L278.90,904.08 M290.39,900.45 L292.20,898.64 L293.41,898.04 L295.22,898.04 L296.43,898.64 L297.04,900.45 L297.04,906.50 M290.39,900.45 L290.39,898.04 M290.39,906.50 L290.39,900.45 M301.27,891.39 L302.48,892.59 L303.69,894.41 L304.90,896.83 L305.50,899.85 L305.50,902.27 L304.90,905.29 L303.69,907.71 L302.48,909.52 L301.27,910.73"/>
<line x1="65" y1="953.5" x2="109" y2="953.5" />
<line x1="65" y1="986.5" x2="109" y2="986.5" />
<line x1="68.5" y1="953.5" x2="68.5" y2="986.5" />
<polygon points="68.5,953.5 70.6,963.0 66.4,963.0" class="f"/>
<polygon points="68.5,986.5 66.4,977.0 70.6,977.0" class="f"/>
<path class="t" d="M61.86,978.14 L60.46,978.34 L59.28,978.90 L58.49,979.73 L58.21,980.71 L58.49,981.70 L59.28,982.53 L60.46,983.09 L61.86,983.29 L63.25,983.09 L64.43,982.53 L65.22,981.70 L65.50,980.71 L65.22,979.73 L64.43,978.90 L63.25,978.34 L61.86,978.14 M65.93,983.50 L57.79,977.93 M64.21,974.93 L65.07,974.50 L65.50,973.21 L65.50,972.36 L65.07,971.07 L63.79,970.21 L61.64,969.79 L59.50,969.79 M59.50,969.79 L57.79,970.21 L56.93,971.07 L56.50,972.36 L56.50,972.79 L56.93,974.07 L57.79,974.93 L59.07,975.36 L59.50,975.36 L60.79,974.93 L61.64,974.07 L62.07,972.79 L62.07,972.36 L61.64,971.07 L60.79,970.21 L59.50,969.79 M64.64,965.93 L65.07,966.36 L65.50,965.93 L65.07,965.50 L64.64,965.93 M56.50,961.64 L56.50,957.36 M63.79,962.50 L64.64,962.07 L65.07,961.64 L65.50,960.36 L65.50,959.07 L65.07,957.79 L64.21,956.93 L62.93,956.50 L62.07,956.50 L60.79,956.93 L59.93,957.79 L59.50,959.07 L59.50,960.36 L59.93,961.64 L60.36,962.07 M56.50,961.64 L60.36,962.07"/>
<path d="M109.5,955 Q109.5,953.5 111,953.5 H133 V986.5 H111 Q109.5,986.5 109.5,985 Z" />
<line x1="112" y1="953.5" x2="112" y2="986.5" />
<line x1="130.5" y1="953.5" x2="130.5" y2="986.5" />
<line x1="112" y1="958.5" x2="130.5" y2="958.5" />
<line x1="112" y1="962.5" x2="130.5" y2="962.5" />
<line x1="112" y1="966.5" x2="130.5" y2="966.5" />
<line x1="112" y1="970.5" x2="130.5" y2="970.5" />
<line x1="112" y1="974.5" x2="130.5" y2="974.5" />
<line x1="112" y1="978.5" x2="130.5" y2="978.5" />
<line x1="112" y1="982.5" x2="130.5" y2="982.5" />
<path d="M133,953.5 H165.5 L184,955 V985 L165.5,986.5 H133" />
<line x1="184.5" y1="955" x2="184.5" y2="985" />
<line x1="187.5" y1="955" x2="187.5" y2="985" />
<line x1="192.5" y1="955.5" x2="192.5" y2="984.5" />
<line x1="194.5" y1="956" x2="194.5" y2="984" />
<polyline points="184.5,955 187.5,954.5 192.5,955 194.5,956" />
<polyline points="184.5,985 187.5,985.5 192.5,985 194.5,984" />
<path d="M194.5,956 Q203,956.5 204.5,961.5 V978 Q203,983.5 194.5,984" />
<polyline points="137.5,969.5 142.5,964.5 142.5,967.5 147.5,967.5 147.5,972 142.5,972 142.5,974.5 137.5,969.5" />
<rect x="150.5" y="961.5" width="2.5" height="16.5"/>
<rect x="156.5" y="961.5" width="2.5" height="16.5"/>
<rect x="177.5" y="961.5" width="3.5" height="3.5"/>
<rect x="177.5" y="975.5" width="3.5" height="3.5"/>
<path d="M95.5,969.5 H181 M183.5,969.5 H193.5 M200,969.5 H204" />
<line x1="200" y1="969.5" x2="465" y2="969.5" class="cl"/>
<path d="M204.5,961.5 H337 Q339.5,965 338.5,969.5 Q337.5,974 337,977.5 H204.5" />
<path d="M465.5,961.5 H344 Q341.5,965 342.5,969.5 Q343.5,974 344,977.5 H465.5 Z" />
<path d="M337,961.5 Q343,965 342.5,969.5 Q342,974 344,977.5 M344,961.5 Q338,965 338.5,969.5 Q339,974 337,977.5" />
<polyline points="466,960.85 502,951.5 503,953.0 466,962.85" />
<polyline points="466,965.35 502,961.5 503,963.0 466,967.35" />
<polyline points="466,971.65 502,975.5 503,977.0 466,973.65" />
<polyline points="466,975.7 502,984.5 503,986.0 466,977.7" />
<line x1="466" y1="969.5" x2="503" y2="969.5" />
<polyline points="310,960.5 348.5,925.5 514.5,925.5" />
<polygon points="310,960.5 315.62,952.56 318.44,955.66" class="f"/>
<path class="t" d="M359.90,916.83 L359.71,915.42 L359.14,914.23 L358.30,913.43 L357.31,913.15 L356.32,913.43 L355.48,914.23 L354.91,915.42 L354.72,916.83 L354.91,918.23 L355.48,919.42 L356.32,920.22 L357.31,920.50 L358.30,920.22 L359.14,919.42 L359.71,918.23 L359.90,916.83 M354.50,920.93 L360.12,912.72 M363.58,911.42 L368.33,911.42 M368.33,911.42 L365.74,914.88 M362.71,918.77 L363.15,919.64 L363.58,920.07 L364.88,920.50 L366.17,920.50 L367.47,920.07 L368.33,919.20 L368.77,917.91 L368.77,917.04 L368.33,915.74 L367.90,915.31 L367.04,914.88 L365.74,914.88 M372.23,919.64 L371.79,920.07 L372.23,920.50 L372.66,920.07 L372.23,919.64 M375.68,911.42 L381.74,911.42 M377.41,920.50 L381.74,911.42 M395.57,917.47 L397.73,917.47 M395.57,911.42 L395.57,917.47 M395.57,920.50 L395.57,917.47 M391.25,917.47 L395.57,917.47 M395.57,911.42 L391.25,917.47 M400.33,916.61 L408.11,916.61 M417.62,913.58 L417.19,912.72 L416.32,911.85 L415.46,911.42 L413.73,911.42 L412.87,911.85 L412.00,912.72 L411.57,913.58 L411.14,914.88 L411.14,917.04 L411.57,918.34 L412.00,919.20 L412.87,920.07 L413.73,920.50 L415.46,920.50 L416.32,920.07 L417.19,919.20 L417.62,918.34 M420.65,918.77 L420.22,917.91 L420.22,917.04 L420.65,915.74 L421.51,914.88 L422.38,914.45 L423.67,914.45 L424.54,914.88 L425.40,915.74 L425.84,917.04 L425.84,917.91 L425.40,919.20 L424.54,920.07 L423.67,920.50 L422.38,920.50 L421.51,920.07 L420.65,919.20 L420.65,918.77 M428.86,920.50 L428.86,917.04 M432.32,914.45 L431.02,914.45 L430.16,914.88 L429.30,915.74 L428.86,917.04 M428.86,914.45 L428.86,917.04 M434.05,917.04 L434.05,917.91 L434.48,919.20 L435.35,920.07 L436.21,920.50 L437.51,920.50 L438.37,920.07 L439.24,919.20 M439.24,917.04 L434.05,917.04 M439.24,917.04 L439.24,916.18 L438.81,915.31 L438.37,914.88 L437.51,914.45 L436.21,914.45 L435.35,914.88 L434.48,915.74 L434.05,917.04 M443.99,917.47 L441.83,914.45 M443.99,917.47 L441.83,920.50 M443.99,917.47 L446.59,914.45 M443.99,917.47 L446.59,920.50 M449.62,914.01 L449.62,913.15 L450.48,911.85 L451.78,911.42 L452.64,911.42 L453.94,911.85 L454.80,913.15 L455.24,915.31 L455.24,916.61 L454.80,918.77 L453.94,920.07 L452.64,920.50 L451.78,920.50 L450.48,920.07 L449.62,918.77 L449.18,916.61 L449.18,915.31 L449.62,914.01 M458.69,919.64 L458.26,920.07 L458.69,920.50 L459.13,920.07 L458.69,919.64 M462.15,920.50 L466.48,916.18 L467.34,914.88 L467.77,914.01 L467.77,913.15 L467.34,912.29 L466.91,911.85 L466.04,911.42 L464.31,911.42 L463.45,911.85 L463.02,912.29 L462.59,913.15 L462.59,913.58 M462.15,920.50 L468.21,920.50 M473.83,915.31 L472.53,914.88 L471.66,914.45 L471.23,913.58 L471.23,912.72 L471.66,911.85 M473.83,915.31 L472.10,915.74 L471.23,916.61 L470.80,917.47 L470.80,918.77 L471.23,919.64 L471.66,920.07 L472.96,920.50 L474.69,920.50 L475.99,920.07 L476.42,919.64 L476.85,918.77 L476.85,917.47 L476.42,916.61 L475.56,915.74 L473.83,915.31 M475.99,911.85 L476.42,912.72 L476.42,913.58 L475.99,914.45 L475.12,914.88 L473.83,915.31 M471.66,911.85 L472.96,911.42 L474.69,911.42 L475.99,911.85 M479.88,916.18 L481.18,914.88 L482.04,914.45 L483.34,914.45 L484.20,914.88 L484.63,916.18 M484.63,916.18 L485.93,914.88 L486.80,914.45 L488.09,914.45 L488.96,914.88 L489.39,916.18 L489.39,920.50 M484.63,916.18 L484.63,920.50 M479.88,916.18 L479.88,914.45 M479.88,920.50 L479.88,916.18 M492.85,916.18 L494.15,914.88 L495.01,914.45 L496.31,914.45 L497.17,914.88 L497.60,916.18 M497.60,916.18 L498.90,914.88 L499.77,914.45 L501.06,914.45 L501.93,914.88 L502.36,916.18 L502.36,920.50 M497.60,916.18 L497.60,920.50 M492.85,916.18 L492.85,914.45 M492.85,920.50 L492.85,916.18 M504.87,916.18 L507.46,913.58 L507.98,912.80 L508.24,912.29 L508.24,911.77 L507.98,911.25 L507.72,910.99 L507.20,910.73 L506.17,910.73 L505.65,910.99 L505.39,911.25 L505.13,911.77 L505.13,912.03 M504.87,916.18 L508.50,916.18"/>
<line x1="111.5" y1="990" x2="111.5" y2="1064" />
<line x1="205.5" y1="985" x2="205.5" y2="1027.5" />
<line x1="465" y1="981.5" x2="465" y2="1063" />
<line x1="111.5" y1="1024.5" x2="205.5" y2="1024.5" />
<polygon points="111.5,1024.5 121.0,1022.4 121.0,1026.6" class="f"/>
<polygon points="205.5,1024.5 196.0,1026.6 196.0,1022.4" class="f"/>
<path class="t" d="M144.50,1021.50 L148.72,1017.28 L149.56,1016.02 L149.98,1015.17 L149.98,1014.33 L149.56,1013.48 L149.14,1013.06 L148.30,1012.64 L146.61,1012.64 L145.77,1013.06 L145.34,1013.48 L144.92,1014.33 L144.92,1014.75 M144.50,1021.50 L150.41,1021.50 M153.36,1018.55 L153.78,1017.28 L154.62,1016.44 L155.89,1016.02 L156.31,1016.02 L157.58,1016.44 L158.42,1017.28 L158.84,1018.55 L158.84,1018.97 L158.42,1020.23 L157.58,1021.08 L156.31,1021.50 L155.89,1021.50 L154.62,1021.08 L153.78,1020.23 L153.36,1018.55 M158.42,1013.91 L158.00,1013.06 M153.36,1018.55 L153.36,1016.44 L153.78,1014.33 L154.62,1013.06 L155.89,1012.64 L156.73,1012.64 L158.00,1013.06 M162.22,1020.66 L161.80,1021.08 L162.22,1021.50 L162.64,1021.08 L162.22,1020.66 M165.59,1012.64 L171.50,1012.64 M167.28,1021.50 L171.50,1012.64"/>
<line x1="111.5" y1="1060.5" x2="465" y2="1060.5" />
<polygon points="111.5,1060.5 121.0,1058.4 121.0,1062.6" class="f"/>
<polygon points="465,1060.5 455.5,1062.6 455.5,1058.4" class="f"/>
<path class="t" d="M284.80,1047.05 L284.80,1056.50 M284.80,1056.50 L290.20,1056.50"/>
<rect x="548.5" y="991.5" width="127" height="68.5"/>
<line x1="622.5" y1="991.5" x2="622.5" y2="1060" />
<line x1="548.5" y1="1014.5" x2="675.5" y2="1014.5" />
<line x1="548.5" y1="1037.5" x2="675.5" y2="1037.5" />
<path class="t" d="M634.00,998.60 L634.00,1008.00 M634.00,1008.00 L639.37,1008.00 M644.75,996.81 L643.85,997.70 L642.96,999.04 L642.06,1000.84 L641.61,1003.07 L641.61,1004.87 L642.06,1007.10 L642.96,1008.90 L643.85,1010.24 L644.75,1011.13 M647.88,1003.52 L649.22,1002.18 L650.12,1001.73 L651.46,1001.73 L652.36,1002.18 L652.81,1003.52 M652.81,1003.52 L654.15,1002.18 L655.04,1001.73 L656.39,1001.73 L657.28,1002.18 L657.73,1003.52 L657.73,1008.00 M652.81,1003.52 L652.81,1008.00 M647.88,1003.52 L647.88,1001.73 M647.88,1008.00 L647.88,1003.52 M660.87,996.81 L661.76,997.70 L662.66,999.04 L663.55,1000.84 L664.00,1003.07 L664.00,1004.87 L663.55,1007.10 L662.66,1008.90 L661.76,1010.24 L660.87,1011.13"/>
<path class="t" d="M550.92,1024.19 L550.50,1025.03 L550.50,1027.13 L550.92,1028.40 L551.34,1029.24 L552.18,1030.08 L553.02,1030.50 L554.71,1030.50 L555.55,1030.08 L556.39,1029.24 L556.81,1028.40 L557.23,1027.13 L557.23,1025.03 L556.81,1023.77 L556.39,1022.93 L555.55,1022.09 L554.71,1021.66 L553.02,1021.66 L552.18,1022.09 L551.34,1022.93 L550.92,1024.19 M560.18,1021.66 L563.96,1021.66 L565.23,1022.09 L565.65,1022.51 L566.07,1023.35 L566.07,1024.61 L565.65,1025.45 L565.23,1025.87 L563.96,1026.29 L560.18,1026.29 M560.18,1026.29 L560.18,1030.50 M560.18,1026.29 L560.18,1021.66 M569.01,1026.71 L576.59,1026.71 M579.53,1021.66 L585.42,1021.66 M581.21,1030.50 L585.42,1021.66 M588.79,1021.66 L593.41,1021.66 M593.41,1021.66 L590.89,1025.03 M587.95,1028.82 L588.37,1029.66 L588.79,1030.08 L590.05,1030.50 L591.31,1030.50 L592.57,1030.08 L593.41,1029.24 L593.84,1027.98 L593.84,1027.13 L593.41,1025.87 L592.99,1025.45 L592.15,1025.03 L590.89,1025.03 M599.30,1025.45 L598.04,1025.03 L597.20,1024.61 L596.78,1023.77 L596.78,1022.93 L597.20,1022.09 M599.30,1025.45 L597.62,1025.87 L596.78,1026.71 L596.36,1027.55 L596.36,1028.82 L596.78,1029.66 L597.20,1030.08 L598.46,1030.50 L600.15,1030.50 L601.41,1030.08 L601.83,1029.66 L602.25,1028.82 L602.25,1027.55 L601.83,1026.71 L600.99,1025.87 L599.30,1025.45 M601.41,1022.09 L601.83,1022.93 L601.83,1023.77 L601.41,1024.61 L600.57,1025.03 L599.30,1025.45 M597.20,1022.09 L598.46,1021.66 L600.15,1021.66 L601.41,1022.09 M605.20,1027.55 L605.62,1026.29 L606.46,1025.45 L607.72,1025.03 L608.14,1025.03 L609.40,1025.45 L610.24,1026.29 L610.66,1027.55 L610.66,1027.98 L610.24,1029.24 L609.40,1030.08 L608.14,1030.50 L607.72,1030.50 L606.46,1030.08 L605.62,1029.24 L605.20,1027.55 M610.24,1022.93 L609.82,1022.09 M605.20,1027.55 L605.20,1025.45 L605.62,1023.35 L606.46,1022.09 L607.72,1021.66 L608.56,1021.66 L609.82,1022.09 M617.40,1027.55 L619.50,1027.55 M617.40,1021.66 L617.40,1027.55 M617.40,1030.50 L617.40,1027.55 M613.19,1027.55 L617.40,1027.55 M617.40,1021.66 L613.19,1027.55"/>
<path class="t" d="M550.92,1047.15 L550.50,1048.00 L550.50,1050.11 L550.92,1051.38 L551.35,1052.23 L552.19,1053.08 L553.04,1053.50 L554.73,1053.50 L555.58,1053.08 L556.43,1052.23 L556.85,1051.38 L557.27,1050.11 L557.27,1048.00 L556.85,1046.73 L556.43,1045.88 L555.58,1045.03 L554.73,1044.61 L553.04,1044.61 L552.19,1045.03 L551.35,1045.88 L550.92,1047.15 M560.24,1044.61 L564.05,1044.61 L565.32,1045.03 L565.74,1045.46 L566.16,1046.30 L566.16,1047.57 L565.74,1048.42 L565.32,1048.84 L564.05,1049.27 L560.24,1049.27 M560.24,1049.27 L560.24,1053.50 M560.24,1049.27 L560.24,1044.61 M569.13,1049.69 L576.75,1049.69 M579.71,1044.61 L585.63,1044.61 M581.40,1053.50 L585.63,1044.61 M589.02,1044.61 L593.68,1044.61 M593.68,1044.61 L591.14,1048.00 M588.17,1051.81 L588.60,1052.65 L589.02,1053.08 L590.29,1053.50 L591.56,1053.50 L592.83,1053.08 L593.68,1052.23 L594.10,1050.96 L594.10,1050.11 L593.68,1048.84 L593.25,1048.42 L592.41,1048.00 L591.14,1048.00 M599.60,1048.42 L598.33,1048.00 L597.49,1047.57 L597.06,1046.73 L597.06,1045.88 L597.49,1045.03 M599.60,1048.42 L597.91,1048.84 L597.06,1049.69 L596.64,1050.54 L596.64,1051.81 L597.06,1052.65 L597.49,1053.08 L598.76,1053.50 L600.45,1053.50 L601.72,1053.08 L602.14,1052.65 L602.57,1051.81 L602.57,1050.54 L602.14,1049.69 L601.30,1048.84 L599.60,1048.42 M601.72,1045.03 L602.14,1045.88 L602.14,1046.73 L601.72,1047.57 L600.87,1048.00 L599.60,1048.42 M597.49,1045.03 L598.76,1044.61 L600.45,1044.61 L601.72,1045.03 M605.53,1050.54 L605.95,1049.27 L606.80,1048.42 L608.07,1048.00 L608.49,1048.00 L609.76,1048.42 L610.61,1049.27 L611.03,1050.54 L611.03,1050.96 L610.61,1052.23 L609.76,1053.08 L608.49,1053.50 L608.07,1053.50 L606.80,1053.08 L605.95,1052.23 L605.53,1050.54 M610.61,1045.88 L610.19,1045.03 M605.53,1050.54 L605.53,1048.42 L605.95,1046.30 L606.80,1045.03 L608.07,1044.61 L608.92,1044.61 L610.19,1045.03 M614.42,1044.61 L618.65,1044.61 M613.57,1051.81 L614.00,1052.65 L614.42,1053.08 L615.69,1053.50 L616.96,1053.50 L618.23,1053.08 L619.08,1052.23 L619.50,1050.96 L619.50,1050.11 L619.08,1048.84 L618.23,1048.00 L616.96,1047.57 L615.69,1047.57 L614.42,1048.00 L614.00,1048.42 M614.42,1044.61 L614.00,1048.42"/>
<path class="t" d="M645.85,1030.50 L650.35,1026.00 L651.25,1024.65 L651.70,1023.75 L651.70,1022.85 L651.25,1021.95 L650.80,1021.50 L649.90,1021.05 L648.10,1021.05 L647.20,1021.50 L646.75,1021.95 L646.30,1022.85 L646.30,1023.30 M645.85,1030.50 L652.15,1030.50"/>
<path class="t" d="M644.27,1044.05 L642.92,1045.40 L642.02,1045.85 M644.27,1044.05 L644.27,1053.50 M650.12,1046.75 L650.12,1045.85 L651.02,1044.50 L652.38,1044.05 L653.27,1044.05 L654.62,1044.50 L655.52,1045.85 L655.98,1048.10 L655.98,1049.45 L655.52,1051.70 L654.62,1053.05 L653.27,1053.50 L652.38,1053.50 L651.02,1053.05 L650.12,1051.70 L649.67,1049.45 L649.67,1048.10 L650.12,1046.75"/>
<circle cx="757.5" cy="916.5" r="37.5" />
<circle cx="746.5" cy="901.5" r="8.5" />
<path class="t" d="M743.35,906.00 L747.85,901.50 L748.75,900.15 L749.20,899.25 L749.20,898.35 L748.75,897.45 L748.30,897.00 L747.40,896.55 L745.60,896.55 L744.70,897.00 L744.25,897.45 L743.80,898.35 L743.80,898.80 M743.35,906.00 L749.65,906.00"/>
<circle cx="769" cy="901.5" r="8.5" />
<path class="t" d="M770.12,902.85 L772.38,902.85 M770.12,896.55 L770.12,902.85 M770.12,906.00 L770.12,902.85 M765.62,902.85 L770.12,902.85 M770.12,896.55 L765.62,902.85"/>
<circle cx="737.5" cy="928" r="8.5" />
<path class="t" d="M738.62,923.05 L737.27,924.40 L736.38,924.85 M738.62,923.05 L738.62,932.50"/>
<circle cx="777.5" cy="928" r="8.5" />
<path class="t" d="M775.25,923.05 L780.20,923.05 M780.20,923.05 L777.50,926.65 M774.35,930.70 L774.80,931.60 L775.25,932.05 L776.60,932.50 L777.95,932.50 L779.30,932.05 L780.20,931.15 L780.65,929.80 L780.65,928.90 L780.20,927.55 L779.75,927.10 L778.85,926.65 L777.50,926.65"/>
<rect x="722.5" y="969.5" width="167" height="92"/>
<line x1="749.5" y1="969.5" x2="749.5" y2="1061.5" />
<line x1="722.5" y1="992.5" x2="889.5" y2="992.5" />
<line x1="722.5" y1="1015.5" x2="889.5" y2="1015.5" />
<line x1="722.5" y1="1038.5" x2="889.5" y2="1038.5" />
<circle cx="736" cy="981" r="8" />
<path class="t" d="M737.05,976.68 L735.79,977.94 L734.95,978.36 M737.05,976.68 L737.05,985.50"/>
<path class="t" d="M756.00,980.79 L759.85,980.79 M756.00,976.51 L759.85,976.51 L761.14,976.94 L761.56,977.37 L761.99,978.22 L761.99,979.08 L761.56,979.94 L761.14,980.36 L759.85,980.79 M756.00,980.79 L756.00,976.51 M756.00,980.79 L756.00,985.50 M756.00,985.50 L759.85,985.50 L761.14,985.07 L761.56,984.64 L761.99,983.79 L761.99,982.50 L761.56,981.65 L761.14,981.22 L759.85,980.79 M764.99,985.50 L764.99,982.08 M768.41,979.51 L767.13,979.51 L766.27,979.94 L765.42,980.79 L764.99,982.08 M764.99,979.51 L764.99,982.08 M770.55,983.79 L770.13,982.93 L770.13,982.08 L770.55,980.79 L771.41,979.94 L772.27,979.51 L773.55,979.51 L774.41,979.94 L775.26,980.79 L775.69,982.08 L775.69,982.93 L775.26,984.22 L774.41,985.07 L773.55,985.50 L772.27,985.50 L771.41,985.07 L770.55,984.22 L770.55,983.79 M779.97,985.50 L778.26,979.51 M779.97,985.50 L781.68,979.51 M785.11,979.51 L783.40,985.50 M781.68,979.51 L783.40,985.50 M788.11,981.22 L789.39,979.94 L790.25,979.51 L791.53,979.51 L792.39,979.94 L792.81,981.22 L792.81,985.50 M788.11,981.22 L788.11,979.51 M788.11,985.50 L788.11,981.22 M806.08,976.51 L804.80,977.79 L803.94,978.22 M806.08,976.51 L806.08,985.50 M811.22,985.50 L815.50,981.22 L816.36,979.94 L816.79,979.08 L816.79,978.22 L816.36,977.37 L815.93,976.94 L815.07,976.51 L813.36,976.51 L812.51,976.94 L812.08,977.37 L811.65,978.22 L811.65,978.65 M811.22,985.50 L817.21,985.50 M820.21,981.65 L827.92,981.65 M830.91,985.50 L835.19,981.22 L836.05,979.94 L836.48,979.08 L836.48,978.22 L836.05,977.37 L835.62,976.94 L834.76,976.51 L833.05,976.51 L832.20,976.94 L831.77,977.37 L831.34,978.22 L831.34,978.65 M830.91,985.50 L836.91,985.50 M843.75,982.50 L845.89,982.50 M843.75,976.51 L843.75,982.50 M843.75,985.50 L843.75,982.50 M839.47,982.50 L843.75,982.50 M843.75,976.51 L839.47,982.50 M850.60,985.50 L847.18,976.51 M850.60,985.50 L854.03,976.51 M863.02,976.51 L866.01,976.51 L867.30,976.94 L868.15,977.79 L868.58,978.65 L869.01,979.94 L869.01,982.08 L868.58,983.36 L868.15,984.22 L867.30,985.07 L866.01,985.50 L863.02,985.50 M863.02,985.50 L863.02,976.51 M878.00,978.65 L877.57,977.79 L876.72,976.94 L875.86,976.51 L874.15,976.51 L873.29,976.94 L872.44,977.79 L872.01,978.65 L871.58,979.94 L871.58,982.08 L872.01,983.36 L872.44,984.22 L873.29,985.07 L874.15,985.50 L875.86,985.50 L876.72,985.07 L877.57,984.22 L878.00,983.36"/>
<circle cx="736" cy="1004" r="8" />
<path class="t" d="M733.06,1008.50 L737.26,1004.30 L738.10,1003.04 L738.52,1002.20 L738.52,1001.36 L738.10,1000.52 L737.68,1000.10 L736.84,999.68 L735.16,999.68 L734.32,1000.10 L733.90,1000.52 L733.48,1001.36 L733.48,1001.78 M733.06,1008.50 L738.94,1008.50"/>
<path class="t" d="M758.15,1008.50 L756.00,999.47 M758.15,1008.50 L760.30,999.47 M762.45,1008.50 L760.30,999.47 M762.45,1008.50 L764.60,999.47 M767.19,1004.20 L768.48,1002.91 L769.34,1002.48 L770.63,1002.48 L771.49,1002.91 L771.92,1004.20 L771.92,1008.50 M767.19,999.47 L767.19,1004.20 M767.19,1008.50 L767.19,1004.20 M775.36,1008.50 L775.36,1002.48 M774.93,999.47 L775.36,999.03 L775.79,999.47 L775.36,999.90 L774.93,999.47 M779.23,999.47 L779.23,1002.48 M779.23,1002.48 L779.23,1006.78 L779.66,1008.07 M781.38,1008.50 L780.52,1008.50 L779.66,1008.07 M779.23,1002.48 L780.95,1002.48 M779.23,1002.48 L777.94,1002.48 M783.53,1005.06 L783.53,1005.92 L783.97,1007.21 L784.83,1008.07 L785.69,1008.50 L786.98,1008.50 L787.84,1008.07 L788.70,1007.21 M788.70,1005.06 L783.53,1005.06 M788.70,1005.06 L788.70,1004.20 L788.27,1003.34 L787.84,1002.91 L786.98,1002.48 L785.69,1002.48 L784.83,1002.91 L783.97,1003.77 L783.53,1005.06 M798.59,1002.05 L798.16,1002.91 L798.16,1005.06 L798.59,1006.35 L799.02,1007.21 L799.88,1008.07 L800.74,1008.50 L802.47,1008.50 L803.33,1008.07 L804.19,1007.21 L804.62,1006.35 L805.05,1005.06 L805.05,1002.91 L804.62,1001.62 L804.19,1000.76 L803.33,999.90 L802.47,999.47 L800.74,999.47 L799.88,999.90 L799.02,1000.76 L798.59,1002.05 M808.06,999.47 L808.06,1005.92 L808.49,1007.21 L809.35,1008.07 L810.64,1008.50 L811.50,1008.50 L812.79,1008.07 L813.65,1007.21 L814.08,1005.92 L814.08,999.47 M819.24,999.47 L819.24,1008.50 M816.23,999.47 L819.24,999.47 M822.26,999.47 L819.24,999.47 M823.98,1008.50 L828.28,1004.20 L829.14,1002.91 L829.57,1002.05 L829.57,1001.19 L829.14,1000.33 L828.71,999.90 L827.85,999.47 L826.13,999.47 L825.27,999.90 L824.84,1000.33 L824.41,1001.19 L824.41,1001.62 M823.98,1008.50 L830.00,1008.50"/>
<circle cx="736" cy="1027" r="8" />
<path class="t" d="M733.90,1022.68 L738.52,1022.68 M738.52,1022.68 L736.00,1026.04 M733.06,1029.82 L733.48,1030.66 L733.90,1031.08 L735.16,1031.50 L736.42,1031.50 L737.68,1031.08 L738.52,1030.24 L738.94,1028.98 L738.94,1028.14 L738.52,1026.88 L738.10,1026.46 L737.26,1026.04 L736.00,1026.04"/>
<path class="t" d="M756.00,1026.62 L759.99,1026.62 M756.00,1022.19 L759.99,1022.19 L761.32,1022.63 L761.77,1023.07 L762.21,1023.96 L762.21,1024.85 L761.77,1025.73 L761.32,1026.18 L759.99,1026.62 M756.00,1026.62 L756.00,1022.19 M756.00,1026.62 L756.00,1031.50 M756.00,1031.50 L759.99,1031.50 L761.32,1031.06 L761.77,1030.61 L762.21,1029.73 L762.21,1028.40 L761.77,1027.51 L761.32,1027.07 L759.99,1026.62 M765.31,1031.50 L765.31,1022.19 M769.30,1031.06 L768.86,1029.73 L768.86,1025.29 M773.74,1029.73 L772.41,1031.06 L771.52,1031.50 L770.19,1031.50 L769.30,1031.06 M773.74,1029.73 L773.74,1025.29 M773.74,1031.50 L773.74,1029.73 M776.84,1027.95 L776.84,1028.84 L777.29,1030.17 L778.17,1031.06 L779.06,1031.50 L780.39,1031.50 L781.28,1031.06 L782.17,1030.17 M782.17,1027.95 L776.84,1027.95 M782.17,1027.95 L782.17,1027.07 L781.72,1026.18 L781.28,1025.73 L780.39,1025.29 L779.06,1025.29 L778.17,1025.73 L777.29,1026.62 L776.84,1027.95 M792.37,1024.85 L792.37,1023.96 L793.25,1022.63 L794.58,1022.19 L795.47,1022.19 L796.80,1022.63 L797.69,1023.96 L798.13,1026.18 L798.13,1027.51 L797.69,1029.73 L796.80,1031.06 L795.47,1031.50 L794.58,1031.50 L793.25,1031.06 L792.37,1029.73 L791.92,1027.51 L791.92,1026.18 L792.37,1024.85 M803.45,1031.50 L799.90,1022.19 M803.45,1031.50 L807.00,1022.19"/>
<circle cx="736" cy="1050" r="8" />
<path class="t" d="M737.05,1051.56 L739.15,1051.56 M737.05,1045.68 L737.05,1051.56 M737.05,1054.50 L737.05,1051.56 M732.85,1051.56 L737.05,1051.56 M737.05,1045.68 L732.85,1051.56"/>
<path class="t" d="M756.00,1049.73 L759.90,1049.73 M756.00,1045.39 L759.90,1045.39 L761.20,1045.83 L761.64,1046.26 L762.07,1047.13 L762.07,1047.99 L761.64,1048.86 L761.20,1049.30 L759.90,1049.73 M756.00,1049.73 L756.00,1045.39 M756.00,1049.73 L756.00,1054.50 M756.00,1054.50 L759.90,1054.50 L761.20,1054.07 L761.64,1053.63 L762.07,1052.77 L762.07,1051.46 L761.64,1050.60 L761.20,1050.16 L759.90,1049.73 M765.11,1054.50 L765.11,1045.39 M773.35,1049.73 L773.35,1053.20 M773.35,1049.73 L772.48,1048.86 L771.61,1048.43 L770.31,1048.43 L769.45,1048.86 L768.58,1049.73 L768.14,1051.03 L768.14,1051.90 L768.58,1053.20 L769.45,1054.07 L770.31,1054.50 L771.61,1054.50 L772.48,1054.07 L773.35,1053.20 M773.35,1053.20 L773.35,1054.50 M773.35,1048.43 L773.35,1049.73 M781.59,1049.73 L780.72,1048.86 L779.86,1048.43 L778.55,1048.43 L777.69,1048.86 L776.82,1049.73 L776.39,1051.03 L776.39,1051.90 L776.82,1053.20 L777.69,1054.07 L778.55,1054.50 L779.86,1054.50 L780.72,1054.07 L781.59,1053.20 M784.63,1045.39 L784.63,1052.77 M784.63,1052.77 L784.63,1054.50 M788.96,1048.43 L786.36,1051.03 M786.36,1051.03 L784.63,1052.77 M786.36,1051.03 L789.40,1054.50 M798.94,1047.99 L798.51,1048.86 L798.51,1051.03 L798.94,1052.33 L799.37,1053.20 L800.24,1054.07 L801.11,1054.50 L802.84,1054.50 L803.71,1054.07 L804.58,1053.20 L805.01,1052.33 L805.45,1051.03 L805.45,1048.86 L805.01,1047.56 L804.58,1046.69 L803.71,1045.83 L802.84,1045.39 L801.11,1045.39 L800.24,1045.83 L799.37,1046.69 L798.94,1047.99 M808.48,1045.39 L808.48,1051.90 L808.92,1053.20 L809.78,1054.07 L811.08,1054.50 L811.95,1054.50 L813.25,1054.07 L814.12,1053.20 L814.55,1051.90 L814.55,1045.39 M819.76,1045.39 L819.76,1054.50 M816.72,1045.39 L819.76,1045.39 M822.80,1045.39 L819.76,1045.39 M828.00,1045.39 L826.70,1046.69 L825.83,1047.13 M828.00,1045.39 L828.00,1054.50"/>
</svg></body></html>
